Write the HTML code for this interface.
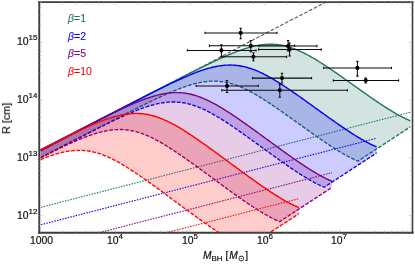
<!DOCTYPE html>
<html><head><meta charset="utf-8"><style>
html,body{margin:0;padding:0;background:#fff;}
body{width:415px;height:265px;position:relative;overflow:hidden;font-family:"Liberation Sans",sans-serif;color:#111;}
.t{position:absolute;white-space:nowrap;line-height:1;font-size:10.4px;will-change:transform;-webkit-text-stroke:0.2px #111;}
.t sup{font-size:8px;vertical-align:baseline;position:relative;top:-5.3px;margin-left:0px;}
.t sub{font-size:8px;vertical-align:baseline;position:relative;top:2px;}
.lg{position:absolute;white-space:nowrap;line-height:1;font-size:10.5px;left:67.8px;will-change:transform;-webkit-text-stroke:0.08px currentColor;}
</style></head><body>
<svg width="415" height="265" viewBox="0 0 415 265" style="position:absolute;left:0;top:0">
<defs><clipPath id="c"><rect x="39.3" y="2.1" width="373.1" height="230.5"/></clipPath></defs>
<g clip-path="url(#c)" fill="none" stroke-linecap="butt" stroke-linejoin="round">
<path d="M41.00 150.87 L45.98 148.23 L50.97 145.61 L55.95 142.98 L60.93 140.36 L65.92 137.74 L70.90 135.12 L75.88 132.51 L80.86 129.90 L85.85 127.29 L90.83 124.69 L95.81 122.08 L100.80 119.48 L105.78 116.88 L110.76 114.28 L115.75 111.68 L120.73 109.09 L125.71 106.49 L130.69 103.90 L135.68 101.31 L140.66 98.72 L145.64 96.13 L150.63 93.54 L155.61 90.96 L160.59 88.37 L165.58 85.79 L170.56 83.20 L175.54 80.62 L180.53 78.04 L185.51 75.44 L190.49 72.82 L195.47 70.20 L200.46 67.58 L205.44 64.96 L210.42 62.33 L215.41 59.72 L220.39 57.10 L225.37 54.48 L230.36 51.86 L235.34 49.24 L240.32 46.62 L245.31 44.01 L250.29 41.39 L255.27 38.77 L260.25 36.16 L265.24 33.54 L270.22 30.93 L275.20 28.32 L280.19 25.74 L285.17 23.17 L290.15 20.60 L295.14 18.03 L300.12 15.46 L305.10 12.89 L310.08 10.32 L315.07 7.75 L320.05 5.18 L325.03 2.61 L330.02 0.04 L335.00 -2.53" stroke="#5a5a5a" stroke-width="1.15" stroke-dasharray="3.6 1.8"/>
<path d="M40.60 150.90 L41.84 150.24 L43.07 149.59 L44.31 148.94 L45.55 148.29 L46.78 147.63 L48.02 146.98 L49.26 146.33 L50.49 145.68 L51.73 145.03 L52.96 144.37 L54.20 143.72 L55.44 143.07 L56.67 142.42 L57.91 141.77 L59.15 141.12 L60.38 140.47 L61.62 139.82 L62.86 139.17 L64.09 138.52 L65.33 137.87 L66.57 137.22 L67.80 136.57 L69.04 135.92 L70.27 135.27 L71.51 134.62 L72.75 133.98 L73.98 133.33 L75.22 132.68 L76.46 132.03 L77.69 131.38 L78.93 130.73 L80.17 130.09 L81.40 129.44 L82.64 128.79 L83.88 128.14 L85.11 127.50 L86.35 126.85 L87.59 126.20 L88.82 125.56 L90.06 124.91 L91.29 124.26 L92.53 123.62 L93.77 122.97 L95.00 122.33 L96.24 121.68 L97.48 121.03 L98.71 120.39 L99.95 119.74 L101.19 119.10 L102.42 118.45 L103.66 117.81 L104.90 117.16 L106.13 116.52 L107.37 115.87 L108.61 115.23 L109.84 114.58 L111.08 113.94 L112.31 113.29 L113.55 112.65 L114.79 112.01 L116.02 111.36 L117.26 110.72 L118.50 110.08 L119.73 109.43 L120.97 108.79 L122.21 108.15 L123.44 107.50 L124.68 106.86 L125.92 106.22 L127.15 105.57 L128.39 104.93 L129.62 104.29 L130.86 103.65 L132.10 103.00 L133.33 102.36 L134.57 101.72 L135.81 101.08 L137.04 100.44 L138.28 99.79 L139.52 99.15 L140.75 98.51 L141.99 97.87 L143.23 97.23 L144.46 96.59 L145.70 95.95 L146.94 95.31 L148.17 94.67 L149.41 94.03 L150.64 93.39 L151.88 92.75 L153.12 92.11 L154.35 91.47 L155.59 90.83 L156.83 90.19 L158.06 89.55 L159.30 88.92 L160.54 88.28 L161.77 87.64 L163.01 87.00 L164.25 86.37 L165.48 85.73 L166.72 85.09 L167.95 84.46 L169.19 83.82 L170.43 83.19 L171.66 82.55 L172.90 81.92 L174.14 81.29 L175.37 80.65 L176.61 80.02 L177.85 79.39 L179.08 78.76 L180.32 78.13 L181.56 77.50 L182.79 76.87 L184.03 76.24 L185.27 75.61 L186.50 74.99 L187.74 74.36 L188.97 73.74 L190.21 73.11 L191.45 72.49 L192.68 71.87 L193.92 71.25 L195.16 70.63 L196.39 70.01 L197.63 69.40 L198.87 68.78 L200.10 68.17 L201.34 67.56 L202.58 66.95 L203.81 66.34 L205.05 65.74 L206.28 65.14 L207.52 64.54 L208.76 63.94 L209.99 63.35 L211.23 62.75 L212.47 62.17 L213.70 61.58 L214.94 61.00 L216.18 60.42 L217.41 59.85 L218.65 59.28 L219.89 58.71 L221.12 58.15 L222.36 57.59 L223.60 57.04 L224.83 56.50 L226.07 55.96 L227.30 55.42 L228.54 54.90 L229.78 54.38 L231.01 53.86 L232.25 53.36 L233.49 52.86 L234.72 52.37 L235.96 51.89 L237.20 51.42 L238.43 50.96 L239.67 50.51 L240.91 50.07 L242.14 49.64 L243.38 49.22 L244.62 48.82 L245.85 48.43 L247.09 48.05 L248.32 47.68 L249.56 47.33 L250.80 47.00 L252.03 46.68 L253.27 46.38 L254.51 46.10 L255.74 45.83 L256.98 45.58 L258.22 45.36 L259.45 45.15 L260.69 44.96 L261.93 44.79 L263.16 44.64 L264.40 44.52 L265.63 44.42 L266.87 44.34 L268.11 44.28 L269.34 44.25 L270.58 44.24 L271.82 44.25 L273.05 44.29 L274.29 44.36 L275.53 44.45 L276.76 44.56 L278.00 44.70 L279.24 44.87 L280.47 45.06 L281.71 45.27 L282.95 45.51 L284.18 45.78 L285.42 46.07 L286.65 46.38 L287.89 46.72 L289.13 47.08 L290.36 47.46 L291.60 47.87 L292.84 48.30 L294.07 48.75 L295.31 49.23 L296.55 49.72 L297.78 50.23 L299.02 50.77 L300.26 51.32 L301.49 51.89 L302.73 52.48 L303.96 53.08 L305.20 53.71 L306.44 54.35 L307.67 55.00 L308.91 55.67 L310.15 56.35 L311.38 57.04 L312.62 57.75 L313.86 58.47 L315.09 59.20 L316.33 59.95 L317.57 60.70 L318.80 61.47 L320.04 62.24 L321.28 63.02 L322.51 63.81 L323.75 64.61 L324.98 65.41 L326.22 66.23 L327.46 67.05 L328.69 67.87 L329.93 68.70 L331.17 69.54 L332.40 70.38 L333.64 71.23 L334.88 72.08 L336.11 72.94 L337.35 73.79 L338.59 74.66 L339.82 75.52 L341.06 76.39 L342.29 77.26 L343.53 78.13 L344.77 79.00 L346.00 79.88 L347.24 80.76 L348.48 81.64 L349.71 82.52 L350.95 83.40 L352.19 84.28 L353.42 85.16 L354.66 86.04 L355.90 86.92 L357.13 87.80 L358.37 88.68 L359.61 89.55 L360.84 90.43 L362.08 91.31 L363.31 92.18 L364.55 93.05 L365.79 93.92 L367.02 94.79 L368.26 95.65 L369.50 96.51 L370.73 97.37 L371.97 98.23 L373.21 99.08 L374.44 99.92 L375.68 100.77 L376.92 101.60 L378.15 102.44 L379.39 103.27 L380.63 104.09 L381.86 104.90 L383.10 105.71 L384.33 106.52 L385.57 107.31 L386.81 108.10 L388.04 108.88 L389.28 109.65 L390.52 110.41 L391.75 111.16 L392.99 111.90 L394.23 112.63 L395.46 113.35 L396.70 114.06 L397.94 114.75 L399.17 115.43 L400.41 116.09 L401.64 116.74 L402.88 117.38 L404.12 117.99 L405.35 118.59 L406.59 119.17 L407.83 119.72 L409.06 120.26 L410.30 120.77 L410.30 126.87 L358.00 161.15 L356.77 160.64 L355.55 160.11 L354.32 159.56 L353.10 158.98 L351.87 158.39 L350.65 157.78 L349.42 157.15 L348.20 156.51 L346.97 155.85 L345.75 155.18 L344.52 154.49 L343.29 153.79 L342.07 153.08 L340.84 152.36 L339.62 151.62 L338.39 150.88 L337.17 150.12 L335.94 149.36 L334.72 148.59 L333.49 147.81 L332.26 147.02 L331.04 146.22 L329.81 145.42 L328.59 144.61 L327.36 143.79 L326.14 142.97 L324.91 142.15 L323.69 141.32 L322.46 140.48 L321.24 139.64 L320.01 138.79 L318.78 137.94 L317.56 137.09 L316.33 136.23 L315.11 135.38 L313.88 134.51 L312.66 133.65 L311.43 132.78 L310.21 131.91 L308.98 131.04 L307.76 130.17 L306.53 129.29 L305.30 128.42 L304.08 127.54 L302.85 126.66 L301.63 125.78 L300.40 124.90 L299.18 124.02 L297.95 123.14 L296.73 122.26 L295.50 121.38 L294.27 120.50 L293.05 119.63 L291.82 118.75 L290.60 117.87 L289.37 117.00 L288.15 116.12 L286.92 115.25 L285.70 114.38 L284.47 113.52 L283.25 112.65 L282.02 111.79 L280.79 110.93 L279.57 110.08 L278.34 109.22 L277.12 108.38 L275.89 107.53 L274.67 106.70 L273.44 105.86 L272.22 105.03 L270.99 104.21 L269.77 103.40 L268.54 102.59 L267.31 101.78 L266.09 100.99 L264.86 100.20 L263.64 99.42 L262.41 98.65 L261.19 97.89 L259.96 97.14 L258.74 96.39 L257.51 95.66 L256.28 94.94 L255.06 94.24 L253.83 93.54 L252.61 92.86 L251.38 92.19 L250.16 91.53 L248.93 90.89 L247.71 90.27 L246.48 89.66 L245.26 89.07 L244.03 88.49 L242.80 87.94 L241.58 87.40 L240.35 86.88 L239.13 86.38 L237.90 85.90 L236.68 85.44 L235.45 85.00 L234.23 84.59 L233.00 84.20 L231.78 83.82 L230.55 83.48 L229.32 83.15 L228.10 82.85 L226.87 82.57 L225.65 82.32 L224.42 82.09 L223.20 81.89 L221.97 81.71 L220.75 81.56 L219.52 81.43 L218.29 81.32 L217.07 81.24 L215.84 81.19 L214.62 81.15 L213.39 81.15 L212.17 81.16 L210.94 81.20 L209.72 81.27 L208.49 81.35 L207.27 81.46 L206.04 81.59 L204.81 81.74 L203.59 81.91 L202.36 82.10 L201.14 82.32 L199.91 82.55 L198.69 82.80 L197.46 83.06 L196.24 83.35 L195.01 83.65 L193.79 83.97 L192.56 84.30 L191.33 84.65 L190.11 85.01 L188.88 85.39 L187.66 85.78 L186.43 86.18 L185.21 86.60 L183.98 87.02 L182.76 87.46 L181.53 87.91 L180.31 88.36 L179.08 88.83 L177.85 89.31 L176.63 89.79 L175.40 90.29 L174.18 90.79 L172.95 91.30 L171.73 91.81 L170.50 92.33 L169.28 92.86 L168.05 93.40 L166.82 93.94 L165.60 94.48 L164.37 95.03 L163.15 95.59 L161.92 96.15 L160.70 96.71 L159.47 97.28 L158.25 97.86 L157.02 98.43 L155.80 99.01 L154.57 99.59 L153.34 100.18 L152.12 100.77 L150.89 101.36 L149.67 101.95 L148.44 102.55 L147.22 103.15 L145.99 103.75 L144.77 104.35 L143.54 104.95 L142.32 105.56 L141.09 106.17 L139.86 106.78 L138.64 107.39 L137.41 108.00 L136.19 108.61 L134.96 109.23 L133.74 109.84 L132.51 110.46 L131.29 111.08 L130.06 111.70 L128.83 112.32 L127.61 112.94 L126.38 113.56 L125.16 114.18 L123.93 114.81 L122.71 115.43 L121.48 116.06 L120.26 116.68 L119.03 117.31 L117.81 117.93 L116.58 118.56 L115.35 119.19 L114.13 119.82 L112.90 120.45 L111.68 121.07 L110.45 121.70 L109.23 122.33 L108.00 122.96 L106.78 123.59 L105.55 124.22 L104.33 124.86 L103.10 125.49 L101.87 126.12 L100.65 126.75 L99.42 127.38 L98.20 128.01 L96.97 128.65 L95.75 129.28 L94.52 129.91 L93.30 130.55 L92.07 131.18 L90.84 131.81 L89.62 132.45 L88.39 133.08 L87.17 133.71 L85.94 134.35 L84.72 134.98 L83.49 135.62 L82.27 136.25 L81.04 136.89 L79.82 137.52 L78.59 138.16 L77.36 138.79 L76.14 139.43 L74.91 140.06 L73.69 140.70 L72.46 141.33 L71.24 141.97 L70.01 142.60 L68.79 143.24 L67.56 143.88 L66.34 144.51 L65.11 145.15 L63.88 145.78 L62.66 146.42 L61.43 147.06 L60.21 147.69 L58.98 148.33 L57.76 148.97 L56.53 149.61 L55.31 150.24 L54.08 150.88 L52.85 151.52 L51.63 152.15 L50.40 152.79 L49.18 153.43 L47.95 154.07 L46.73 154.71 L45.50 155.34 L44.28 155.98 L43.05 156.62 L41.83 157.26 L40.60 157.90 Z" fill="#1f7362" fill-opacity="0.2" stroke="none"/>
<path d="M41 207.30 L410.30 112.21" stroke="#1f7362" stroke-width="1.1" stroke-dasharray="1.5 1.25"/>
<path d="M40.60 157.90 L41.83 157.26 L43.05 156.62 L44.28 155.98 L45.50 155.34 L46.73 154.71 L47.95 154.07 L49.18 153.43 L50.40 152.79 L51.63 152.15 L52.85 151.52 L54.08 150.88 L55.31 150.24 L56.53 149.61 L57.76 148.97 L58.98 148.33 L60.21 147.69 L61.43 147.06 L62.66 146.42 L63.88 145.78 L65.11 145.15 L66.34 144.51 L67.56 143.88 L68.79 143.24 L70.01 142.60 L71.24 141.97 L72.46 141.33 L73.69 140.70 L74.91 140.06 L76.14 139.43 L77.36 138.79 L78.59 138.16 L79.82 137.52 L81.04 136.89 L82.27 136.25 L83.49 135.62 L84.72 134.98 L85.94 134.35 L87.17 133.71 L88.39 133.08 L89.62 132.45 L90.84 131.81 L92.07 131.18 L93.30 130.55 L94.52 129.91 L95.75 129.28 L96.97 128.65 L98.20 128.01 L99.42 127.38 L100.65 126.75 L101.87 126.12 L103.10 125.49 L104.33 124.86 L105.55 124.22 L106.78 123.59 L108.00 122.96 L109.23 122.33 L110.45 121.70 L111.68 121.07 L112.90 120.45 L114.13 119.82 L115.35 119.19 L116.58 118.56 L117.81 117.93 L119.03 117.31 L120.26 116.68 L121.48 116.06 L122.71 115.43 L123.93 114.81 L125.16 114.18 L126.38 113.56 L127.61 112.94 L128.83 112.32 L130.06 111.70 L131.29 111.08 L132.51 110.46 L133.74 109.84 L134.96 109.23 L136.19 108.61 L137.41 108.00 L138.64 107.39 L139.86 106.78 L141.09 106.17 L142.32 105.56 L143.54 104.95 L144.77 104.35 L145.99 103.75 L147.22 103.15 L148.44 102.55 L149.67 101.95 L150.89 101.36 L152.12 100.77 L153.34 100.18 L154.57 99.59 L155.80 99.01 L157.02 98.43 L158.25 97.86 L159.47 97.28 L160.70 96.71 L161.92 96.15 L163.15 95.59 L164.37 95.03 L165.60 94.48 L166.82 93.94 L168.05 93.40 L169.28 92.86 L170.50 92.33 L171.73 91.81 L172.95 91.30 L174.18 90.79 L175.40 90.29 L176.63 89.79 L177.85 89.31 L179.08 88.83 L180.31 88.36 L181.53 87.91 L182.76 87.46 L183.98 87.02 L185.21 86.60 L186.43 86.18 L187.66 85.78 L188.88 85.39 L190.11 85.01 L191.33 84.65 L192.56 84.30 L193.79 83.97 L195.01 83.65 L196.24 83.35 L197.46 83.06 L198.69 82.80 L199.91 82.55 L201.14 82.32 L202.36 82.10 L203.59 81.91 L204.81 81.74 L206.04 81.59 L207.27 81.46 L208.49 81.35 L209.72 81.27 L210.94 81.20 L212.17 81.16 L213.39 81.15 L214.62 81.15 L215.84 81.19 L217.07 81.24 L218.29 81.32 L219.52 81.43 L220.75 81.56 L221.97 81.71 L223.20 81.89 L224.42 82.09 L225.65 82.32 L226.87 82.57 L228.10 82.85 L229.32 83.15 L230.55 83.48 L231.78 83.82 L233.00 84.20 L234.23 84.59 L235.45 85.00 L236.68 85.44 L237.90 85.90 L239.13 86.38 L240.35 86.88 L241.58 87.40 L242.80 87.94 L244.03 88.49 L245.26 89.07 L246.48 89.66 L247.71 90.27 L248.93 90.89 L250.16 91.53 L251.38 92.19 L252.61 92.86 L253.83 93.54 L255.06 94.24 L256.28 94.94 L257.51 95.66 L258.74 96.39 L259.96 97.14 L261.19 97.89 L262.41 98.65 L263.64 99.42 L264.86 100.20 L266.09 100.99 L267.31 101.78 L268.54 102.59 L269.77 103.40 L270.99 104.21 L272.22 105.03 L273.44 105.86 L274.67 106.70 L275.89 107.53 L277.12 108.38 L278.34 109.22 L279.57 110.08 L280.79 110.93 L282.02 111.79 L283.25 112.65 L284.47 113.52 L285.70 114.38 L286.92 115.25 L288.15 116.12 L289.37 117.00 L290.60 117.87 L291.82 118.75 L293.05 119.63 L294.27 120.50 L295.50 121.38 L296.73 122.26 L297.95 123.14 L299.18 124.02 L300.40 124.90 L301.63 125.78 L302.85 126.66 L304.08 127.54 L305.30 128.42 L306.53 129.29 L307.76 130.17 L308.98 131.04 L310.21 131.91 L311.43 132.78 L312.66 133.65 L313.88 134.51 L315.11 135.38 L316.33 136.23 L317.56 137.09 L318.78 137.94 L320.01 138.79 L321.24 139.64 L322.46 140.48 L323.69 141.32 L324.91 142.15 L326.14 142.97 L327.36 143.79 L328.59 144.61 L329.81 145.42 L331.04 146.22 L332.26 147.02 L333.49 147.81 L334.72 148.59 L335.94 149.36 L337.17 150.12 L338.39 150.88 L339.62 151.62 L340.84 152.36 L342.07 153.08 L343.29 153.79 L344.52 154.49 L345.75 155.18 L346.97 155.85 L348.20 156.51 L349.42 157.15 L350.65 157.78 L351.87 158.39 L353.10 158.98 L354.32 159.56 L355.55 160.11 L356.77 160.64 L358.00 161.15 L410.30 126.87" stroke="#1f7362" stroke-width="1.35" stroke-dasharray="3.8 1.5"/>
<path d="M40.60 150.90 L41.84 150.24 L43.07 149.59 L44.31 148.94 L45.55 148.29 L46.78 147.63 L48.02 146.98 L49.26 146.33 L50.49 145.68 L51.73 145.03 L52.96 144.37 L54.20 143.72 L55.44 143.07 L56.67 142.42 L57.91 141.77 L59.15 141.12 L60.38 140.47 L61.62 139.82 L62.86 139.17 L64.09 138.52 L65.33 137.87 L66.57 137.22 L67.80 136.57 L69.04 135.92 L70.27 135.27 L71.51 134.62 L72.75 133.98 L73.98 133.33 L75.22 132.68 L76.46 132.03 L77.69 131.38 L78.93 130.73 L80.17 130.09 L81.40 129.44 L82.64 128.79 L83.88 128.14 L85.11 127.50 L86.35 126.85 L87.59 126.20 L88.82 125.56 L90.06 124.91 L91.29 124.26 L92.53 123.62 L93.77 122.97 L95.00 122.33 L96.24 121.68 L97.48 121.03 L98.71 120.39 L99.95 119.74 L101.19 119.10 L102.42 118.45 L103.66 117.81 L104.90 117.16 L106.13 116.52 L107.37 115.87 L108.61 115.23 L109.84 114.58 L111.08 113.94 L112.31 113.29 L113.55 112.65 L114.79 112.01 L116.02 111.36 L117.26 110.72 L118.50 110.08 L119.73 109.43 L120.97 108.79 L122.21 108.15 L123.44 107.50 L124.68 106.86 L125.92 106.22 L127.15 105.57 L128.39 104.93 L129.62 104.29 L130.86 103.65 L132.10 103.00 L133.33 102.36 L134.57 101.72 L135.81 101.08 L137.04 100.44 L138.28 99.79 L139.52 99.15 L140.75 98.51 L141.99 97.87 L143.23 97.23 L144.46 96.59 L145.70 95.95 L146.94 95.31 L148.17 94.67 L149.41 94.03 L150.64 93.39 L151.88 92.75 L153.12 92.11 L154.35 91.47 L155.59 90.83 L156.83 90.19 L158.06 89.55 L159.30 88.92 L160.54 88.28 L161.77 87.64 L163.01 87.00 L164.25 86.37 L165.48 85.73 L166.72 85.09 L167.95 84.46 L169.19 83.82 L170.43 83.19 L171.66 82.55 L172.90 81.92 L174.14 81.29 L175.37 80.65 L176.61 80.02 L177.85 79.39 L179.08 78.76 L180.32 78.13 L181.56 77.50 L182.79 76.87 L184.03 76.24 L185.27 75.61 L186.50 74.99 L187.74 74.36 L188.97 73.74 L190.21 73.11 L191.45 72.49 L192.68 71.87 L193.92 71.25 L195.16 70.63 L196.39 70.01 L197.63 69.40 L198.87 68.78 L200.10 68.17 L201.34 67.56 L202.58 66.95 L203.81 66.34 L205.05 65.74 L206.28 65.14 L207.52 64.54 L208.76 63.94 L209.99 63.35 L211.23 62.75 L212.47 62.17 L213.70 61.58 L214.94 61.00 L216.18 60.42 L217.41 59.85 L218.65 59.28 L219.89 58.71 L221.12 58.15 L222.36 57.59 L223.60 57.04 L224.83 56.50 L226.07 55.96 L227.30 55.42 L228.54 54.90 L229.78 54.38 L231.01 53.86 L232.25 53.36 L233.49 52.86 L234.72 52.37 L235.96 51.89 L237.20 51.42 L238.43 50.96 L239.67 50.51 L240.91 50.07 L242.14 49.64 L243.38 49.22 L244.62 48.82 L245.85 48.43 L247.09 48.05 L248.32 47.68 L249.56 47.33 L250.80 47.00 L252.03 46.68 L253.27 46.38 L254.51 46.10 L255.74 45.83 L256.98 45.58 L258.22 45.36 L259.45 45.15 L260.69 44.96 L261.93 44.79 L263.16 44.64 L264.40 44.52 L265.63 44.42 L266.87 44.34 L268.11 44.28 L269.34 44.25 L270.58 44.24 L271.82 44.25 L273.05 44.29 L274.29 44.36 L275.53 44.45 L276.76 44.56 L278.00 44.70 L279.24 44.87 L280.47 45.06 L281.71 45.27 L282.95 45.51 L284.18 45.78 L285.42 46.07 L286.65 46.38 L287.89 46.72 L289.13 47.08 L290.36 47.46 L291.60 47.87 L292.84 48.30 L294.07 48.75 L295.31 49.23 L296.55 49.72 L297.78 50.23 L299.02 50.77 L300.26 51.32 L301.49 51.89 L302.73 52.48 L303.96 53.08 L305.20 53.71 L306.44 54.35 L307.67 55.00 L308.91 55.67 L310.15 56.35 L311.38 57.04 L312.62 57.75 L313.86 58.47 L315.09 59.20 L316.33 59.95 L317.57 60.70 L318.80 61.47 L320.04 62.24 L321.28 63.02 L322.51 63.81 L323.75 64.61 L324.98 65.41 L326.22 66.23 L327.46 67.05 L328.69 67.87 L329.93 68.70 L331.17 69.54 L332.40 70.38 L333.64 71.23 L334.88 72.08 L336.11 72.94 L337.35 73.79 L338.59 74.66 L339.82 75.52 L341.06 76.39 L342.29 77.26 L343.53 78.13 L344.77 79.00 L346.00 79.88 L347.24 80.76 L348.48 81.64 L349.71 82.52 L350.95 83.40 L352.19 84.28 L353.42 85.16 L354.66 86.04 L355.90 86.92 L357.13 87.80 L358.37 88.68 L359.61 89.55 L360.84 90.43 L362.08 91.31 L363.31 92.18 L364.55 93.05 L365.79 93.92 L367.02 94.79 L368.26 95.65 L369.50 96.51 L370.73 97.37 L371.97 98.23 L373.21 99.08 L374.44 99.92 L375.68 100.77 L376.92 101.60 L378.15 102.44 L379.39 103.27 L380.63 104.09 L381.86 104.90 L383.10 105.71 L384.33 106.52 L385.57 107.31 L386.81 108.10 L388.04 108.88 L389.28 109.65 L390.52 110.41 L391.75 111.16 L392.99 111.90 L394.23 112.63 L395.46 113.35 L396.70 114.06 L397.94 114.75 L399.17 115.43 L400.41 116.09 L401.64 116.74 L402.88 117.38 L404.12 117.99 L405.35 118.59 L406.59 119.17 L407.83 119.72 L409.06 120.26 L410.30 120.77" stroke="#1f7362" stroke-width="1.4"/>
<path d="M40.60 150.25 L41.72 149.66 L42.85 149.08 L43.97 148.49 L45.09 147.90 L46.22 147.32 L47.34 146.73 L48.47 146.15 L49.59 145.56 L50.71 144.98 L51.84 144.39 L52.96 143.81 L54.08 143.22 L55.21 142.64 L56.33 142.05 L57.46 141.47 L58.58 140.88 L59.70 140.30 L60.83 139.71 L61.95 139.13 L63.07 138.54 L64.20 137.96 L65.32 137.38 L66.45 136.79 L67.57 136.21 L68.69 135.62 L69.82 135.04 L70.94 134.46 L72.06 133.87 L73.19 133.29 L74.31 132.70 L75.44 132.12 L76.56 131.54 L77.68 130.95 L78.81 130.37 L79.93 129.79 L81.05 129.20 L82.18 128.62 L83.30 128.04 L84.43 127.46 L85.55 126.87 L86.67 126.29 L87.80 125.71 L88.92 125.13 L90.04 124.54 L91.17 123.96 L92.29 123.38 L93.42 122.80 L94.54 122.21 L95.66 121.63 L96.79 121.05 L97.91 120.47 L99.03 119.89 L100.16 119.31 L101.28 118.72 L102.41 118.14 L103.53 117.56 L104.65 116.98 L105.78 116.40 L106.90 115.82 L108.02 115.24 L109.15 114.66 L110.27 114.08 L111.40 113.50 L112.52 112.92 L113.64 112.34 L114.77 111.76 L115.89 111.18 L117.01 110.60 L118.14 110.02 L119.26 109.44 L120.39 108.86 L121.51 108.29 L122.63 107.71 L123.76 107.13 L124.88 106.55 L126.00 105.98 L127.13 105.40 L128.25 104.82 L129.38 104.25 L130.50 103.67 L131.62 103.09 L132.75 102.52 L133.87 101.94 L134.99 101.37 L136.12 100.80 L137.24 100.22 L138.37 99.65 L139.49 99.08 L140.61 98.51 L141.74 97.93 L142.86 97.36 L143.98 96.79 L145.11 96.22 L146.23 95.66 L147.36 95.09 L148.48 94.52 L149.60 93.96 L150.73 93.39 L151.85 92.83 L152.97 92.26 L154.10 91.70 L155.22 91.14 L156.35 90.58 L157.47 90.02 L158.59 89.47 L159.72 88.91 L160.84 88.36 L161.96 87.80 L163.09 87.25 L164.21 86.70 L165.34 86.15 L166.46 85.61 L167.58 85.07 L168.71 84.52 L169.83 83.99 L170.95 83.45 L172.08 82.92 L173.20 82.38 L174.33 81.86 L175.45 81.33 L176.57 80.81 L177.70 80.29 L178.82 79.77 L179.94 79.26 L181.07 78.76 L182.19 78.25 L183.32 77.75 L184.44 77.26 L185.56 76.77 L186.69 76.28 L187.81 75.80 L188.93 75.33 L190.06 74.86 L191.18 74.40 L192.31 73.94 L193.43 73.49 L194.55 73.05 L195.68 72.62 L196.80 72.19 L197.92 71.77 L199.05 71.36 L200.17 70.96 L201.30 70.57 L202.42 70.19 L203.54 69.82 L204.67 69.45 L205.79 69.10 L206.91 68.76 L208.04 68.44 L209.16 68.12 L210.29 67.82 L211.41 67.53 L212.53 67.25 L213.66 66.99 L214.78 66.75 L215.90 66.51 L217.03 66.30 L218.15 66.10 L219.28 65.91 L220.40 65.74 L221.52 65.59 L222.65 65.46 L223.77 65.35 L224.89 65.25 L226.02 65.17 L227.14 65.12 L228.27 65.08 L229.39 65.06 L230.51 65.06 L231.64 65.08 L232.76 65.12 L233.88 65.18 L235.01 65.26 L236.13 65.37 L237.26 65.49 L238.38 65.63 L239.50 65.80 L240.63 65.99 L241.75 66.19 L242.87 66.42 L244.00 66.67 L245.12 66.94 L246.25 67.22 L247.37 67.53 L248.49 67.86 L249.62 68.21 L250.74 68.57 L251.86 68.96 L252.99 69.36 L254.11 69.78 L255.24 70.22 L256.36 70.67 L257.48 71.14 L258.61 71.63 L259.73 72.14 L260.85 72.65 L261.98 73.19 L263.10 73.74 L264.23 74.30 L265.35 74.87 L266.47 75.46 L267.60 76.06 L268.72 76.67 L269.84 77.30 L270.97 77.93 L272.09 78.58 L273.22 79.23 L274.34 79.90 L275.46 80.57 L276.59 81.26 L277.71 81.95 L278.83 82.65 L279.96 83.36 L281.08 84.07 L282.21 84.80 L283.33 85.53 L284.45 86.26 L285.58 87.00 L286.70 87.75 L287.82 88.50 L288.95 89.26 L290.07 90.02 L291.20 90.79 L292.32 91.56 L293.44 92.33 L294.57 93.11 L295.69 93.89 L296.81 94.68 L297.94 95.47 L299.06 96.26 L300.19 97.05 L301.31 97.85 L302.43 98.64 L303.56 99.44 L304.68 100.25 L305.80 101.05 L306.93 101.85 L308.05 102.66 L309.18 103.47 L310.30 104.27 L311.42 105.08 L312.55 105.89 L313.67 106.70 L314.79 107.51 L315.92 108.32 L317.04 109.13 L318.17 109.94 L319.29 110.75 L320.41 111.56 L321.54 112.37 L322.66 113.17 L323.78 113.98 L324.91 114.79 L326.03 115.59 L327.16 116.39 L328.28 117.20 L329.40 118.00 L330.53 118.79 L331.65 119.59 L332.77 120.38 L333.90 121.17 L335.02 121.96 L336.15 122.75 L337.27 123.53 L338.39 124.31 L339.52 125.09 L340.64 125.86 L341.76 126.63 L342.89 127.40 L344.01 128.16 L345.14 128.92 L346.26 129.67 L347.38 130.41 L348.51 131.16 L349.63 131.89 L350.75 132.62 L351.88 133.35 L353.00 134.07 L354.13 134.78 L355.25 135.48 L356.37 136.18 L357.50 136.86 L358.62 137.54 L359.74 138.21 L360.87 138.88 L361.99 139.53 L363.12 140.17 L364.24 140.80 L365.36 141.42 L366.49 142.02 L367.61 142.62 L368.73 143.20 L369.86 143.77 L370.98 144.32 L372.11 144.85 L373.23 145.37 L374.35 145.88 L375.48 146.36 L376.60 146.82 L376.60 152.92 L324.30 187.20 L323.20 186.75 L322.11 186.28 L321.01 185.79 L319.92 185.28 L318.82 184.76 L317.73 184.23 L316.63 183.68 L315.54 183.11 L314.44 182.53 L313.35 181.95 L312.25 181.34 L311.16 180.73 L310.06 180.11 L308.96 179.48 L307.87 178.84 L306.77 178.18 L305.68 177.52 L304.58 176.86 L303.49 176.18 L302.39 175.50 L301.30 174.81 L300.20 174.11 L299.11 173.41 L298.01 172.70 L296.92 171.98 L295.82 171.26 L294.73 170.54 L293.63 169.80 L292.53 169.07 L291.44 168.33 L290.34 167.58 L289.25 166.84 L288.15 166.08 L287.06 165.33 L285.96 164.57 L284.87 163.81 L283.77 163.04 L282.68 162.27 L281.58 161.50 L280.49 160.73 L279.39 159.95 L278.29 159.17 L277.20 158.39 L276.10 157.61 L275.01 156.83 L273.91 156.04 L272.82 155.25 L271.72 154.47 L270.63 153.68 L269.53 152.89 L268.44 152.09 L267.34 151.30 L266.25 150.51 L265.15 149.71 L264.05 148.92 L262.96 148.12 L261.86 147.33 L260.77 146.53 L259.67 145.74 L258.58 144.95 L257.48 144.15 L256.39 143.36 L255.29 142.56 L254.20 141.77 L253.10 140.98 L252.01 140.19 L250.91 139.40 L249.82 138.61 L248.72 137.82 L247.62 137.03 L246.53 136.25 L245.43 135.47 L244.34 134.69 L243.24 133.91 L242.15 133.13 L241.05 132.36 L239.96 131.59 L238.86 130.82 L237.77 130.06 L236.67 129.30 L235.58 128.54 L234.48 127.79 L233.38 127.04 L232.29 126.29 L231.19 125.55 L230.10 124.82 L229.00 124.08 L227.91 123.36 L226.81 122.64 L225.72 121.93 L224.62 121.22 L223.53 120.52 L222.43 119.82 L221.34 119.14 L220.24 118.46 L219.14 117.79 L218.05 117.13 L216.95 116.47 L215.86 115.83 L214.76 115.19 L213.67 114.57 L212.57 113.95 L211.48 113.35 L210.38 112.75 L209.29 112.17 L208.19 111.60 L207.10 111.05 L206.00 110.50 L204.91 109.97 L203.81 109.45 L202.71 108.95 L201.62 108.46 L200.52 107.99 L199.43 107.53 L198.33 107.09 L197.24 106.66 L196.14 106.25 L195.05 105.86 L193.95 105.49 L192.86 105.13 L191.76 104.79 L190.67 104.47 L189.57 104.17 L188.47 103.89 L187.38 103.62 L186.28 103.38 L185.19 103.15 L184.09 102.95 L183.00 102.76 L181.90 102.59 L180.81 102.45 L179.71 102.32 L178.62 102.21 L177.52 102.12 L176.43 102.06 L175.33 102.01 L174.23 101.98 L173.14 101.97 L172.04 101.98 L170.95 102.01 L169.85 102.05 L168.76 102.12 L167.66 102.20 L166.57 102.30 L165.47 102.42 L164.38 102.55 L163.28 102.71 L162.19 102.87 L161.09 103.06 L159.99 103.26 L158.90 103.47 L157.80 103.70 L156.71 103.94 L155.61 104.20 L154.52 104.47 L153.42 104.75 L152.33 105.05 L151.23 105.36 L150.14 105.67 L149.04 106.01 L147.95 106.35 L146.85 106.70 L145.76 107.06 L144.66 107.43 L143.56 107.81 L142.47 108.20 L141.37 108.60 L140.28 109.00 L139.18 109.42 L138.09 109.84 L136.99 110.27 L135.90 110.70 L134.80 111.15 L133.71 111.59 L132.61 112.05 L131.52 112.51 L130.42 112.97 L129.32 113.44 L128.23 113.92 L127.13 114.40 L126.04 114.88 L124.94 115.37 L123.85 115.86 L122.75 116.36 L121.66 116.86 L120.56 117.36 L119.47 117.87 L118.37 118.38 L117.28 118.89 L116.18 119.40 L115.08 119.92 L113.99 120.44 L112.89 120.96 L111.80 121.49 L110.70 122.02 L109.61 122.55 L108.51 123.08 L107.42 123.61 L106.32 124.15 L105.23 124.68 L104.13 125.22 L103.04 125.76 L101.94 126.30 L100.85 126.85 L99.75 127.39 L98.65 127.93 L97.56 128.48 L96.46 129.03 L95.37 129.58 L94.27 130.12 L93.18 130.67 L92.08 131.23 L90.99 131.78 L89.89 132.33 L88.80 132.88 L87.70 133.44 L86.61 133.99 L85.51 134.55 L84.41 135.10 L83.32 135.66 L82.22 136.22 L81.13 136.78 L80.03 137.33 L78.94 137.89 L77.84 138.45 L76.75 139.01 L75.65 139.57 L74.56 140.13 L73.46 140.69 L72.37 141.25 L71.27 141.81 L70.17 142.38 L69.08 142.94 L67.98 143.50 L66.89 144.06 L65.79 144.62 L64.70 145.19 L63.60 145.75 L62.51 146.31 L61.41 146.88 L60.32 147.44 L59.22 148.01 L58.13 148.57 L57.03 149.13 L55.94 149.70 L54.84 150.26 L53.74 150.83 L52.65 151.39 L51.55 151.96 L50.46 152.52 L49.36 153.09 L48.27 153.65 L47.17 154.22 L46.08 154.79 L44.98 155.35 L43.89 155.92 L42.79 156.48 L41.70 157.05 L40.60 157.62 Z" fill="#0000ff" fill-opacity="0.2" stroke="none"/>
<path d="M41 224.67 L376.60 138.25" stroke="#0000ff" stroke-width="1.1" stroke-dasharray="1.5 1.25"/>
<path d="M40.60 157.62 L41.70 157.05 L42.79 156.48 L43.89 155.92 L44.98 155.35 L46.08 154.79 L47.17 154.22 L48.27 153.65 L49.36 153.09 L50.46 152.52 L51.55 151.96 L52.65 151.39 L53.74 150.83 L54.84 150.26 L55.94 149.70 L57.03 149.13 L58.13 148.57 L59.22 148.01 L60.32 147.44 L61.41 146.88 L62.51 146.31 L63.60 145.75 L64.70 145.19 L65.79 144.62 L66.89 144.06 L67.98 143.50 L69.08 142.94 L70.17 142.38 L71.27 141.81 L72.37 141.25 L73.46 140.69 L74.56 140.13 L75.65 139.57 L76.75 139.01 L77.84 138.45 L78.94 137.89 L80.03 137.33 L81.13 136.78 L82.22 136.22 L83.32 135.66 L84.41 135.10 L85.51 134.55 L86.61 133.99 L87.70 133.44 L88.80 132.88 L89.89 132.33 L90.99 131.78 L92.08 131.23 L93.18 130.67 L94.27 130.12 L95.37 129.58 L96.46 129.03 L97.56 128.48 L98.65 127.93 L99.75 127.39 L100.85 126.85 L101.94 126.30 L103.04 125.76 L104.13 125.22 L105.23 124.68 L106.32 124.15 L107.42 123.61 L108.51 123.08 L109.61 122.55 L110.70 122.02 L111.80 121.49 L112.89 120.96 L113.99 120.44 L115.08 119.92 L116.18 119.40 L117.28 118.89 L118.37 118.38 L119.47 117.87 L120.56 117.36 L121.66 116.86 L122.75 116.36 L123.85 115.86 L124.94 115.37 L126.04 114.88 L127.13 114.40 L128.23 113.92 L129.32 113.44 L130.42 112.97 L131.52 112.51 L132.61 112.05 L133.71 111.59 L134.80 111.15 L135.90 110.70 L136.99 110.27 L138.09 109.84 L139.18 109.42 L140.28 109.00 L141.37 108.60 L142.47 108.20 L143.56 107.81 L144.66 107.43 L145.76 107.06 L146.85 106.70 L147.95 106.35 L149.04 106.01 L150.14 105.67 L151.23 105.36 L152.33 105.05 L153.42 104.75 L154.52 104.47 L155.61 104.20 L156.71 103.94 L157.80 103.70 L158.90 103.47 L159.99 103.26 L161.09 103.06 L162.19 102.87 L163.28 102.71 L164.38 102.55 L165.47 102.42 L166.57 102.30 L167.66 102.20 L168.76 102.12 L169.85 102.05 L170.95 102.01 L172.04 101.98 L173.14 101.97 L174.23 101.98 L175.33 102.01 L176.43 102.06 L177.52 102.12 L178.62 102.21 L179.71 102.32 L180.81 102.45 L181.90 102.59 L183.00 102.76 L184.09 102.95 L185.19 103.15 L186.28 103.38 L187.38 103.62 L188.47 103.89 L189.57 104.17 L190.67 104.47 L191.76 104.79 L192.86 105.13 L193.95 105.49 L195.05 105.86 L196.14 106.25 L197.24 106.66 L198.33 107.09 L199.43 107.53 L200.52 107.99 L201.62 108.46 L202.71 108.95 L203.81 109.45 L204.91 109.97 L206.00 110.50 L207.10 111.05 L208.19 111.60 L209.29 112.17 L210.38 112.75 L211.48 113.35 L212.57 113.95 L213.67 114.57 L214.76 115.19 L215.86 115.83 L216.95 116.47 L218.05 117.13 L219.14 117.79 L220.24 118.46 L221.34 119.14 L222.43 119.82 L223.53 120.52 L224.62 121.22 L225.72 121.93 L226.81 122.64 L227.91 123.36 L229.00 124.08 L230.10 124.82 L231.19 125.55 L232.29 126.29 L233.38 127.04 L234.48 127.79 L235.58 128.54 L236.67 129.30 L237.77 130.06 L238.86 130.82 L239.96 131.59 L241.05 132.36 L242.15 133.13 L243.24 133.91 L244.34 134.69 L245.43 135.47 L246.53 136.25 L247.62 137.03 L248.72 137.82 L249.82 138.61 L250.91 139.40 L252.01 140.19 L253.10 140.98 L254.20 141.77 L255.29 142.56 L256.39 143.36 L257.48 144.15 L258.58 144.95 L259.67 145.74 L260.77 146.53 L261.86 147.33 L262.96 148.12 L264.05 148.92 L265.15 149.71 L266.25 150.51 L267.34 151.30 L268.44 152.09 L269.53 152.89 L270.63 153.68 L271.72 154.47 L272.82 155.25 L273.91 156.04 L275.01 156.83 L276.10 157.61 L277.20 158.39 L278.29 159.17 L279.39 159.95 L280.49 160.73 L281.58 161.50 L282.68 162.27 L283.77 163.04 L284.87 163.81 L285.96 164.57 L287.06 165.33 L288.15 166.08 L289.25 166.84 L290.34 167.58 L291.44 168.33 L292.53 169.07 L293.63 169.80 L294.73 170.54 L295.82 171.26 L296.92 171.98 L298.01 172.70 L299.11 173.41 L300.20 174.11 L301.30 174.81 L302.39 175.50 L303.49 176.18 L304.58 176.86 L305.68 177.52 L306.77 178.18 L307.87 178.84 L308.96 179.48 L310.06 180.11 L311.16 180.73 L312.25 181.34 L313.35 181.95 L314.44 182.53 L315.54 183.11 L316.63 183.68 L317.73 184.23 L318.82 184.76 L319.92 185.28 L321.01 185.79 L322.11 186.28 L323.20 186.75 L324.30 187.20 L376.60 152.92" stroke="#0000ff" stroke-width="1.35" stroke-dasharray="3.8 1.5"/>
<path d="M40.60 150.25 L41.72 149.66 L42.85 149.08 L43.97 148.49 L45.09 147.90 L46.22 147.32 L47.34 146.73 L48.47 146.15 L49.59 145.56 L50.71 144.98 L51.84 144.39 L52.96 143.81 L54.08 143.22 L55.21 142.64 L56.33 142.05 L57.46 141.47 L58.58 140.88 L59.70 140.30 L60.83 139.71 L61.95 139.13 L63.07 138.54 L64.20 137.96 L65.32 137.38 L66.45 136.79 L67.57 136.21 L68.69 135.62 L69.82 135.04 L70.94 134.46 L72.06 133.87 L73.19 133.29 L74.31 132.70 L75.44 132.12 L76.56 131.54 L77.68 130.95 L78.81 130.37 L79.93 129.79 L81.05 129.20 L82.18 128.62 L83.30 128.04 L84.43 127.46 L85.55 126.87 L86.67 126.29 L87.80 125.71 L88.92 125.13 L90.04 124.54 L91.17 123.96 L92.29 123.38 L93.42 122.80 L94.54 122.21 L95.66 121.63 L96.79 121.05 L97.91 120.47 L99.03 119.89 L100.16 119.31 L101.28 118.72 L102.41 118.14 L103.53 117.56 L104.65 116.98 L105.78 116.40 L106.90 115.82 L108.02 115.24 L109.15 114.66 L110.27 114.08 L111.40 113.50 L112.52 112.92 L113.64 112.34 L114.77 111.76 L115.89 111.18 L117.01 110.60 L118.14 110.02 L119.26 109.44 L120.39 108.86 L121.51 108.29 L122.63 107.71 L123.76 107.13 L124.88 106.55 L126.00 105.98 L127.13 105.40 L128.25 104.82 L129.38 104.25 L130.50 103.67 L131.62 103.09 L132.75 102.52 L133.87 101.94 L134.99 101.37 L136.12 100.80 L137.24 100.22 L138.37 99.65 L139.49 99.08 L140.61 98.51 L141.74 97.93 L142.86 97.36 L143.98 96.79 L145.11 96.22 L146.23 95.66 L147.36 95.09 L148.48 94.52 L149.60 93.96 L150.73 93.39 L151.85 92.83 L152.97 92.26 L154.10 91.70 L155.22 91.14 L156.35 90.58 L157.47 90.02 L158.59 89.47 L159.72 88.91 L160.84 88.36 L161.96 87.80 L163.09 87.25 L164.21 86.70 L165.34 86.15 L166.46 85.61 L167.58 85.07 L168.71 84.52 L169.83 83.99 L170.95 83.45 L172.08 82.92 L173.20 82.38 L174.33 81.86 L175.45 81.33 L176.57 80.81 L177.70 80.29 L178.82 79.77 L179.94 79.26 L181.07 78.76 L182.19 78.25 L183.32 77.75 L184.44 77.26 L185.56 76.77 L186.69 76.28 L187.81 75.80 L188.93 75.33 L190.06 74.86 L191.18 74.40 L192.31 73.94 L193.43 73.49 L194.55 73.05 L195.68 72.62 L196.80 72.19 L197.92 71.77 L199.05 71.36 L200.17 70.96 L201.30 70.57 L202.42 70.19 L203.54 69.82 L204.67 69.45 L205.79 69.10 L206.91 68.76 L208.04 68.44 L209.16 68.12 L210.29 67.82 L211.41 67.53 L212.53 67.25 L213.66 66.99 L214.78 66.75 L215.90 66.51 L217.03 66.30 L218.15 66.10 L219.28 65.91 L220.40 65.74 L221.52 65.59 L222.65 65.46 L223.77 65.35 L224.89 65.25 L226.02 65.17 L227.14 65.12 L228.27 65.08 L229.39 65.06 L230.51 65.06 L231.64 65.08 L232.76 65.12 L233.88 65.18 L235.01 65.26 L236.13 65.37 L237.26 65.49 L238.38 65.63 L239.50 65.80 L240.63 65.99 L241.75 66.19 L242.87 66.42 L244.00 66.67 L245.12 66.94 L246.25 67.22 L247.37 67.53 L248.49 67.86 L249.62 68.21 L250.74 68.57 L251.86 68.96 L252.99 69.36 L254.11 69.78 L255.24 70.22 L256.36 70.67 L257.48 71.14 L258.61 71.63 L259.73 72.14 L260.85 72.65 L261.98 73.19 L263.10 73.74 L264.23 74.30 L265.35 74.87 L266.47 75.46 L267.60 76.06 L268.72 76.67 L269.84 77.30 L270.97 77.93 L272.09 78.58 L273.22 79.23 L274.34 79.90 L275.46 80.57 L276.59 81.26 L277.71 81.95 L278.83 82.65 L279.96 83.36 L281.08 84.07 L282.21 84.80 L283.33 85.53 L284.45 86.26 L285.58 87.00 L286.70 87.75 L287.82 88.50 L288.95 89.26 L290.07 90.02 L291.20 90.79 L292.32 91.56 L293.44 92.33 L294.57 93.11 L295.69 93.89 L296.81 94.68 L297.94 95.47 L299.06 96.26 L300.19 97.05 L301.31 97.85 L302.43 98.64 L303.56 99.44 L304.68 100.25 L305.80 101.05 L306.93 101.85 L308.05 102.66 L309.18 103.47 L310.30 104.27 L311.42 105.08 L312.55 105.89 L313.67 106.70 L314.79 107.51 L315.92 108.32 L317.04 109.13 L318.17 109.94 L319.29 110.75 L320.41 111.56 L321.54 112.37 L322.66 113.17 L323.78 113.98 L324.91 114.79 L326.03 115.59 L327.16 116.39 L328.28 117.20 L329.40 118.00 L330.53 118.79 L331.65 119.59 L332.77 120.38 L333.90 121.17 L335.02 121.96 L336.15 122.75 L337.27 123.53 L338.39 124.31 L339.52 125.09 L340.64 125.86 L341.76 126.63 L342.89 127.40 L344.01 128.16 L345.14 128.92 L346.26 129.67 L347.38 130.41 L348.51 131.16 L349.63 131.89 L350.75 132.62 L351.88 133.35 L353.00 134.07 L354.13 134.78 L355.25 135.48 L356.37 136.18 L357.50 136.86 L358.62 137.54 L359.74 138.21 L360.87 138.88 L361.99 139.53 L363.12 140.17 L364.24 140.80 L365.36 141.42 L366.49 142.02 L367.61 142.62 L368.73 143.20 L369.86 143.77 L370.98 144.32 L372.11 144.85 L373.23 145.37 L374.35 145.88 L375.48 146.36 L376.60 146.82" stroke="#0000ff" stroke-width="1.4"/>
<path d="M40.60 149.88 L41.57 149.38 L42.55 148.87 L43.52 148.37 L44.50 147.87 L45.47 147.36 L46.45 146.86 L47.42 146.36 L48.40 145.85 L49.37 145.35 L50.35 144.85 L51.32 144.34 L52.29 143.84 L53.27 143.34 L54.24 142.84 L55.22 142.33 L56.19 141.83 L57.17 141.33 L58.14 140.83 L59.12 140.33 L60.09 139.82 L61.07 139.32 L62.04 138.82 L63.02 138.32 L63.99 137.82 L64.96 137.32 L65.94 136.82 L66.91 136.31 L67.89 135.81 L68.86 135.31 L69.84 134.81 L70.81 134.31 L71.79 133.81 L72.76 133.31 L73.74 132.81 L74.71 132.31 L75.68 131.82 L76.66 131.32 L77.63 130.82 L78.61 130.32 L79.58 129.82 L80.56 129.32 L81.53 128.83 L82.51 128.33 L83.48 127.83 L84.46 127.34 L85.43 126.84 L86.41 126.35 L87.38 125.85 L88.35 125.36 L89.33 124.86 L90.30 124.37 L91.28 123.88 L92.25 123.38 L93.23 122.89 L94.20 122.40 L95.18 121.91 L96.15 121.42 L97.13 120.93 L98.10 120.44 L99.07 119.95 L100.05 119.46 L101.02 118.98 L102.00 118.49 L102.97 118.01 L103.95 117.52 L104.92 117.04 L105.90 116.56 L106.87 116.08 L107.85 115.60 L108.82 115.12 L109.80 114.65 L110.77 114.17 L111.74 113.70 L112.72 113.22 L113.69 112.75 L114.67 112.28 L115.64 111.81 L116.62 111.35 L117.59 110.88 L118.57 110.42 L119.54 109.96 L120.52 109.50 L121.49 109.05 L122.46 108.59 L123.44 108.14 L124.41 107.69 L125.39 107.25 L126.36 106.80 L127.34 106.36 L128.31 105.93 L129.29 105.49 L130.26 105.06 L131.24 104.63 L132.21 104.21 L133.19 103.79 L134.16 103.38 L135.13 102.96 L136.11 102.56 L137.08 102.15 L138.06 101.76 L139.03 101.36 L140.01 100.97 L140.98 100.59 L141.96 100.21 L142.93 99.84 L143.91 99.48 L144.88 99.12 L145.85 98.77 L146.83 98.42 L147.80 98.08 L148.78 97.75 L149.75 97.43 L150.73 97.11 L151.70 96.80 L152.68 96.50 L153.65 96.21 L154.63 95.93 L155.60 95.66 L156.58 95.39 L157.55 95.14 L158.52 94.90 L159.50 94.66 L160.47 94.44 L161.45 94.23 L162.42 94.03 L163.40 93.84 L164.37 93.67 L165.35 93.50 L166.32 93.35 L167.30 93.21 L168.27 93.09 L169.24 92.98 L170.22 92.88 L171.19 92.79 L172.17 92.72 L173.14 92.67 L174.12 92.62 L175.09 92.60 L176.07 92.58 L177.04 92.59 L178.02 92.60 L178.99 92.64 L179.97 92.69 L180.94 92.75 L181.91 92.83 L182.89 92.92 L183.86 93.04 L184.84 93.16 L185.81 93.30 L186.79 93.46 L187.76 93.64 L188.74 93.82 L189.71 94.03 L190.69 94.25 L191.66 94.48 L192.63 94.73 L193.61 95.00 L194.58 95.28 L195.56 95.57 L196.53 95.88 L197.51 96.21 L198.48 96.54 L199.46 96.89 L200.43 97.26 L201.41 97.64 L202.38 98.03 L203.36 98.43 L204.33 98.84 L205.30 99.27 L206.28 99.71 L207.25 100.16 L208.23 100.62 L209.20 101.10 L210.18 101.58 L211.15 102.07 L212.13 102.58 L213.10 103.09 L214.08 103.61 L215.05 104.14 L216.02 104.68 L217.00 105.23 L217.97 105.79 L218.95 106.36 L219.92 106.93 L220.90 107.51 L221.87 108.10 L222.85 108.69 L223.82 109.29 L224.80 109.90 L225.77 110.51 L226.75 111.13 L227.72 111.75 L228.69 112.38 L229.67 113.01 L230.64 113.65 L231.62 114.30 L232.59 114.95 L233.57 115.60 L234.54 116.25 L235.52 116.91 L236.49 117.58 L237.47 118.25 L238.44 118.92 L239.41 119.59 L240.39 120.27 L241.36 120.95 L242.34 121.63 L243.31 122.31 L244.29 123.00 L245.26 123.69 L246.24 124.38 L247.21 125.08 L248.19 125.77 L249.16 126.47 L250.14 127.17 L251.11 127.87 L252.08 128.57 L253.06 129.28 L254.03 129.98 L255.01 130.69 L255.98 131.39 L256.96 132.10 L257.93 132.81 L258.91 133.52 L259.88 134.23 L260.86 134.94 L261.83 135.65 L262.80 136.36 L263.78 137.07 L264.75 137.78 L265.73 138.49 L266.70 139.21 L267.68 139.92 L268.65 140.63 L269.63 141.34 L270.60 142.05 L271.58 142.76 L272.55 143.47 L273.53 144.18 L274.50 144.89 L275.47 145.60 L276.45 146.31 L277.42 147.02 L278.40 147.72 L279.37 148.43 L280.35 149.13 L281.32 149.83 L282.30 150.53 L283.27 151.24 L284.25 151.93 L285.22 152.63 L286.19 153.33 L287.17 154.02 L288.14 154.71 L289.12 155.40 L290.09 156.09 L291.07 156.78 L292.04 157.46 L293.02 158.14 L293.99 158.82 L294.97 159.50 L295.94 160.17 L296.92 160.84 L297.89 161.51 L298.86 162.17 L299.84 162.83 L300.81 163.49 L301.79 164.14 L302.76 164.79 L303.74 165.44 L304.71 166.08 L305.69 166.72 L306.66 167.35 L307.64 167.98 L308.61 168.60 L309.58 169.22 L310.56 169.83 L311.53 170.43 L312.51 171.03 L313.48 171.63 L314.46 172.21 L315.43 172.79 L316.41 173.37 L317.38 173.93 L318.36 174.49 L319.33 175.04 L320.31 175.58 L321.28 176.11 L322.25 176.64 L323.23 177.15 L324.20 177.65 L325.18 178.15 L326.15 178.63 L327.13 179.10 L328.10 179.55 L329.08 180.00 L330.05 180.43 L331.03 180.85 L332.00 181.25 L332.00 187.35 L279.70 221.63 L278.78 221.25 L277.85 220.86 L276.93 220.45 L276.01 220.03 L275.08 219.60 L274.16 219.16 L273.24 218.70 L272.31 218.24 L271.39 217.77 L270.47 217.29 L269.55 216.80 L268.62 216.30 L267.70 215.79 L266.78 215.27 L265.85 214.75 L264.93 214.22 L264.01 213.68 L263.08 213.14 L262.16 212.59 L261.24 212.03 L260.31 211.47 L259.39 210.90 L258.47 210.33 L257.54 209.75 L256.62 209.17 L255.70 208.58 L254.77 207.99 L253.85 207.39 L252.93 206.79 L252.01 206.18 L251.08 205.57 L250.16 204.96 L249.24 204.34 L248.31 203.72 L247.39 203.10 L246.47 202.47 L245.54 201.84 L244.62 201.21 L243.70 200.57 L242.77 199.93 L241.85 199.29 L240.93 198.65 L240.00 198.00 L239.08 197.35 L238.16 196.70 L237.23 196.05 L236.31 195.40 L235.39 194.74 L234.46 194.08 L233.54 193.42 L232.62 192.76 L231.70 192.10 L230.77 191.44 L229.85 190.77 L228.93 190.11 L228.00 189.44 L227.08 188.77 L226.16 188.10 L225.23 187.43 L224.31 186.76 L223.39 186.09 L222.46 185.41 L221.54 184.74 L220.62 184.06 L219.69 183.39 L218.77 182.71 L217.85 182.04 L216.92 181.36 L216.00 180.68 L215.08 180.00 L214.16 179.33 L213.23 178.65 L212.31 177.97 L211.39 177.29 L210.46 176.61 L209.54 175.94 L208.62 175.26 L207.69 174.58 L206.77 173.90 L205.85 173.23 L204.92 172.55 L204.00 171.87 L203.08 171.20 L202.15 170.52 L201.23 169.85 L200.31 169.18 L199.38 168.50 L198.46 167.83 L197.54 167.16 L196.62 166.49 L195.69 165.82 L194.77 165.15 L193.85 164.49 L192.92 163.82 L192.00 163.16 L191.08 162.50 L190.15 161.84 L189.23 161.18 L188.31 160.52 L187.38 159.87 L186.46 159.22 L185.54 158.57 L184.61 157.92 L183.69 157.27 L182.77 156.63 L181.84 155.99 L180.92 155.35 L180.00 154.72 L179.07 154.09 L178.15 153.46 L177.23 152.83 L176.31 152.21 L175.38 151.60 L174.46 150.98 L173.54 150.37 L172.61 149.77 L171.69 149.17 L170.77 148.57 L169.84 147.98 L168.92 147.40 L168.00 146.82 L167.07 146.24 L166.15 145.67 L165.23 145.11 L164.30 144.55 L163.38 144.00 L162.46 143.45 L161.53 142.92 L160.61 142.38 L159.69 141.86 L158.77 141.34 L157.84 140.84 L156.92 140.33 L156.00 139.84 L155.07 139.36 L154.15 138.88 L153.23 138.42 L152.30 137.96 L151.38 137.51 L150.46 137.08 L149.53 136.65 L148.61 136.23 L147.69 135.83 L146.76 135.43 L145.84 135.05 L144.92 134.67 L143.99 134.31 L143.07 133.96 L142.15 133.62 L141.23 133.30 L140.30 132.98 L139.38 132.68 L138.46 132.40 L137.53 132.12 L136.61 131.86 L135.69 131.61 L134.76 131.37 L133.84 131.15 L132.92 130.95 L131.99 130.75 L131.07 130.57 L130.15 130.41 L129.22 130.25 L128.30 130.12 L127.38 129.99 L126.45 129.88 L125.53 129.79 L124.61 129.70 L123.68 129.64 L122.76 129.58 L121.84 129.54 L120.92 129.52 L119.99 129.50 L119.07 129.50 L118.15 129.52 L117.22 129.55 L116.30 129.59 L115.38 129.64 L114.45 129.71 L113.53 129.79 L112.61 129.88 L111.68 129.98 L110.76 130.10 L109.84 130.23 L108.91 130.37 L107.99 130.52 L107.07 130.68 L106.14 130.85 L105.22 131.03 L104.30 131.23 L103.38 131.43 L102.45 131.64 L101.53 131.87 L100.61 132.10 L99.68 132.34 L98.76 132.59 L97.84 132.85 L96.91 133.12 L95.99 133.39 L95.07 133.67 L94.14 133.96 L93.22 134.26 L92.30 134.57 L91.37 134.88 L90.45 135.20 L89.53 135.52 L88.60 135.85 L87.68 136.19 L86.76 136.53 L85.84 136.88 L84.91 137.23 L83.99 137.59 L83.07 137.95 L82.14 138.32 L81.22 138.70 L80.30 139.07 L79.37 139.45 L78.45 139.84 L77.53 140.23 L76.60 140.62 L75.68 141.02 L74.76 141.42 L73.83 141.82 L72.91 142.23 L71.99 142.64 L71.06 143.05 L70.14 143.47 L69.22 143.88 L68.29 144.30 L67.37 144.73 L66.45 145.15 L65.53 145.58 L64.60 146.01 L63.68 146.44 L62.76 146.88 L61.83 147.31 L60.91 147.75 L59.99 148.19 L59.06 148.63 L58.14 149.07 L57.22 149.52 L56.29 149.96 L55.37 150.41 L54.45 150.86 L53.52 151.31 L52.60 151.76 L51.68 152.21 L50.75 152.66 L49.83 153.12 L48.91 153.57 L47.99 154.03 L47.06 154.49 L46.14 154.94 L45.22 155.40 L44.29 155.86 L43.37 156.32 L42.45 156.79 L41.52 157.25 L40.60 157.71 Z" fill="#800080" fill-opacity="0.2" stroke="none"/>
<path d="M41 247.63 L332.00 172.70" stroke="#800080" stroke-width="1.1" stroke-dasharray="1.5 1.25"/>
<path d="M40.60 157.71 L41.52 157.25 L42.45 156.79 L43.37 156.32 L44.29 155.86 L45.22 155.40 L46.14 154.94 L47.06 154.49 L47.99 154.03 L48.91 153.57 L49.83 153.12 L50.75 152.66 L51.68 152.21 L52.60 151.76 L53.52 151.31 L54.45 150.86 L55.37 150.41 L56.29 149.96 L57.22 149.52 L58.14 149.07 L59.06 148.63 L59.99 148.19 L60.91 147.75 L61.83 147.31 L62.76 146.88 L63.68 146.44 L64.60 146.01 L65.53 145.58 L66.45 145.15 L67.37 144.73 L68.29 144.30 L69.22 143.88 L70.14 143.47 L71.06 143.05 L71.99 142.64 L72.91 142.23 L73.83 141.82 L74.76 141.42 L75.68 141.02 L76.60 140.62 L77.53 140.23 L78.45 139.84 L79.37 139.45 L80.30 139.07 L81.22 138.70 L82.14 138.32 L83.07 137.95 L83.99 137.59 L84.91 137.23 L85.84 136.88 L86.76 136.53 L87.68 136.19 L88.60 135.85 L89.53 135.52 L90.45 135.20 L91.37 134.88 L92.30 134.57 L93.22 134.26 L94.14 133.96 L95.07 133.67 L95.99 133.39 L96.91 133.12 L97.84 132.85 L98.76 132.59 L99.68 132.34 L100.61 132.10 L101.53 131.87 L102.45 131.64 L103.38 131.43 L104.30 131.23 L105.22 131.03 L106.14 130.85 L107.07 130.68 L107.99 130.52 L108.91 130.37 L109.84 130.23 L110.76 130.10 L111.68 129.98 L112.61 129.88 L113.53 129.79 L114.45 129.71 L115.38 129.64 L116.30 129.59 L117.22 129.55 L118.15 129.52 L119.07 129.50 L119.99 129.50 L120.92 129.52 L121.84 129.54 L122.76 129.58 L123.68 129.64 L124.61 129.70 L125.53 129.79 L126.45 129.88 L127.38 129.99 L128.30 130.12 L129.22 130.25 L130.15 130.41 L131.07 130.57 L131.99 130.75 L132.92 130.95 L133.84 131.15 L134.76 131.37 L135.69 131.61 L136.61 131.86 L137.53 132.12 L138.46 132.40 L139.38 132.68 L140.30 132.98 L141.23 133.30 L142.15 133.62 L143.07 133.96 L143.99 134.31 L144.92 134.67 L145.84 135.05 L146.76 135.43 L147.69 135.83 L148.61 136.23 L149.53 136.65 L150.46 137.08 L151.38 137.51 L152.30 137.96 L153.23 138.42 L154.15 138.88 L155.07 139.36 L156.00 139.84 L156.92 140.33 L157.84 140.84 L158.77 141.34 L159.69 141.86 L160.61 142.38 L161.53 142.92 L162.46 143.45 L163.38 144.00 L164.30 144.55 L165.23 145.11 L166.15 145.67 L167.07 146.24 L168.00 146.82 L168.92 147.40 L169.84 147.98 L170.77 148.57 L171.69 149.17 L172.61 149.77 L173.54 150.37 L174.46 150.98 L175.38 151.60 L176.31 152.21 L177.23 152.83 L178.15 153.46 L179.07 154.09 L180.00 154.72 L180.92 155.35 L181.84 155.99 L182.77 156.63 L183.69 157.27 L184.61 157.92 L185.54 158.57 L186.46 159.22 L187.38 159.87 L188.31 160.52 L189.23 161.18 L190.15 161.84 L191.08 162.50 L192.00 163.16 L192.92 163.82 L193.85 164.49 L194.77 165.15 L195.69 165.82 L196.62 166.49 L197.54 167.16 L198.46 167.83 L199.38 168.50 L200.31 169.18 L201.23 169.85 L202.15 170.52 L203.08 171.20 L204.00 171.87 L204.92 172.55 L205.85 173.23 L206.77 173.90 L207.69 174.58 L208.62 175.26 L209.54 175.94 L210.46 176.61 L211.39 177.29 L212.31 177.97 L213.23 178.65 L214.16 179.33 L215.08 180.00 L216.00 180.68 L216.92 181.36 L217.85 182.04 L218.77 182.71 L219.69 183.39 L220.62 184.06 L221.54 184.74 L222.46 185.41 L223.39 186.09 L224.31 186.76 L225.23 187.43 L226.16 188.10 L227.08 188.77 L228.00 189.44 L228.93 190.11 L229.85 190.77 L230.77 191.44 L231.70 192.10 L232.62 192.76 L233.54 193.42 L234.46 194.08 L235.39 194.74 L236.31 195.40 L237.23 196.05 L238.16 196.70 L239.08 197.35 L240.00 198.00 L240.93 198.65 L241.85 199.29 L242.77 199.93 L243.70 200.57 L244.62 201.21 L245.54 201.84 L246.47 202.47 L247.39 203.10 L248.31 203.72 L249.24 204.34 L250.16 204.96 L251.08 205.57 L252.01 206.18 L252.93 206.79 L253.85 207.39 L254.77 207.99 L255.70 208.58 L256.62 209.17 L257.54 209.75 L258.47 210.33 L259.39 210.90 L260.31 211.47 L261.24 212.03 L262.16 212.59 L263.08 213.14 L264.01 213.68 L264.93 214.22 L265.85 214.75 L266.78 215.27 L267.70 215.79 L268.62 216.30 L269.55 216.80 L270.47 217.29 L271.39 217.77 L272.31 218.24 L273.24 218.70 L274.16 219.16 L275.08 219.60 L276.01 220.03 L276.93 220.45 L277.85 220.86 L278.78 221.25 L279.70 221.63 L332.00 187.35" stroke="#800080" stroke-width="1.35" stroke-dasharray="3.8 1.5"/>
<path d="M40.60 149.88 L41.57 149.38 L42.55 148.87 L43.52 148.37 L44.50 147.87 L45.47 147.36 L46.45 146.86 L47.42 146.36 L48.40 145.85 L49.37 145.35 L50.35 144.85 L51.32 144.34 L52.29 143.84 L53.27 143.34 L54.24 142.84 L55.22 142.33 L56.19 141.83 L57.17 141.33 L58.14 140.83 L59.12 140.33 L60.09 139.82 L61.07 139.32 L62.04 138.82 L63.02 138.32 L63.99 137.82 L64.96 137.32 L65.94 136.82 L66.91 136.31 L67.89 135.81 L68.86 135.31 L69.84 134.81 L70.81 134.31 L71.79 133.81 L72.76 133.31 L73.74 132.81 L74.71 132.31 L75.68 131.82 L76.66 131.32 L77.63 130.82 L78.61 130.32 L79.58 129.82 L80.56 129.32 L81.53 128.83 L82.51 128.33 L83.48 127.83 L84.46 127.34 L85.43 126.84 L86.41 126.35 L87.38 125.85 L88.35 125.36 L89.33 124.86 L90.30 124.37 L91.28 123.88 L92.25 123.38 L93.23 122.89 L94.20 122.40 L95.18 121.91 L96.15 121.42 L97.13 120.93 L98.10 120.44 L99.07 119.95 L100.05 119.46 L101.02 118.98 L102.00 118.49 L102.97 118.01 L103.95 117.52 L104.92 117.04 L105.90 116.56 L106.87 116.08 L107.85 115.60 L108.82 115.12 L109.80 114.65 L110.77 114.17 L111.74 113.70 L112.72 113.22 L113.69 112.75 L114.67 112.28 L115.64 111.81 L116.62 111.35 L117.59 110.88 L118.57 110.42 L119.54 109.96 L120.52 109.50 L121.49 109.05 L122.46 108.59 L123.44 108.14 L124.41 107.69 L125.39 107.25 L126.36 106.80 L127.34 106.36 L128.31 105.93 L129.29 105.49 L130.26 105.06 L131.24 104.63 L132.21 104.21 L133.19 103.79 L134.16 103.38 L135.13 102.96 L136.11 102.56 L137.08 102.15 L138.06 101.76 L139.03 101.36 L140.01 100.97 L140.98 100.59 L141.96 100.21 L142.93 99.84 L143.91 99.48 L144.88 99.12 L145.85 98.77 L146.83 98.42 L147.80 98.08 L148.78 97.75 L149.75 97.43 L150.73 97.11 L151.70 96.80 L152.68 96.50 L153.65 96.21 L154.63 95.93 L155.60 95.66 L156.58 95.39 L157.55 95.14 L158.52 94.90 L159.50 94.66 L160.47 94.44 L161.45 94.23 L162.42 94.03 L163.40 93.84 L164.37 93.67 L165.35 93.50 L166.32 93.35 L167.30 93.21 L168.27 93.09 L169.24 92.98 L170.22 92.88 L171.19 92.79 L172.17 92.72 L173.14 92.67 L174.12 92.62 L175.09 92.60 L176.07 92.58 L177.04 92.59 L178.02 92.60 L178.99 92.64 L179.97 92.69 L180.94 92.75 L181.91 92.83 L182.89 92.92 L183.86 93.04 L184.84 93.16 L185.81 93.30 L186.79 93.46 L187.76 93.64 L188.74 93.82 L189.71 94.03 L190.69 94.25 L191.66 94.48 L192.63 94.73 L193.61 95.00 L194.58 95.28 L195.56 95.57 L196.53 95.88 L197.51 96.21 L198.48 96.54 L199.46 96.89 L200.43 97.26 L201.41 97.64 L202.38 98.03 L203.36 98.43 L204.33 98.84 L205.30 99.27 L206.28 99.71 L207.25 100.16 L208.23 100.62 L209.20 101.10 L210.18 101.58 L211.15 102.07 L212.13 102.58 L213.10 103.09 L214.08 103.61 L215.05 104.14 L216.02 104.68 L217.00 105.23 L217.97 105.79 L218.95 106.36 L219.92 106.93 L220.90 107.51 L221.87 108.10 L222.85 108.69 L223.82 109.29 L224.80 109.90 L225.77 110.51 L226.75 111.13 L227.72 111.75 L228.69 112.38 L229.67 113.01 L230.64 113.65 L231.62 114.30 L232.59 114.95 L233.57 115.60 L234.54 116.25 L235.52 116.91 L236.49 117.58 L237.47 118.25 L238.44 118.92 L239.41 119.59 L240.39 120.27 L241.36 120.95 L242.34 121.63 L243.31 122.31 L244.29 123.00 L245.26 123.69 L246.24 124.38 L247.21 125.08 L248.19 125.77 L249.16 126.47 L250.14 127.17 L251.11 127.87 L252.08 128.57 L253.06 129.28 L254.03 129.98 L255.01 130.69 L255.98 131.39 L256.96 132.10 L257.93 132.81 L258.91 133.52 L259.88 134.23 L260.86 134.94 L261.83 135.65 L262.80 136.36 L263.78 137.07 L264.75 137.78 L265.73 138.49 L266.70 139.21 L267.68 139.92 L268.65 140.63 L269.63 141.34 L270.60 142.05 L271.58 142.76 L272.55 143.47 L273.53 144.18 L274.50 144.89 L275.47 145.60 L276.45 146.31 L277.42 147.02 L278.40 147.72 L279.37 148.43 L280.35 149.13 L281.32 149.83 L282.30 150.53 L283.27 151.24 L284.25 151.93 L285.22 152.63 L286.19 153.33 L287.17 154.02 L288.14 154.71 L289.12 155.40 L290.09 156.09 L291.07 156.78 L292.04 157.46 L293.02 158.14 L293.99 158.82 L294.97 159.50 L295.94 160.17 L296.92 160.84 L297.89 161.51 L298.86 162.17 L299.84 162.83 L300.81 163.49 L301.79 164.14 L302.76 164.79 L303.74 165.44 L304.71 166.08 L305.69 166.72 L306.66 167.35 L307.64 167.98 L308.61 168.60 L309.58 169.22 L310.56 169.83 L311.53 170.43 L312.51 171.03 L313.48 171.63 L314.46 172.21 L315.43 172.79 L316.41 173.37 L317.38 173.93 L318.36 174.49 L319.33 175.04 L320.31 175.58 L321.28 176.11 L322.25 176.64 L323.23 177.15 L324.20 177.65 L325.18 178.15 L326.15 178.63 L327.13 179.10 L328.10 179.55 L329.08 180.00 L330.05 180.43 L331.03 180.85 L332.00 181.25" stroke="#800080" stroke-width="1.4"/>
<path d="M40.60 149.86 L41.46 149.42 L42.33 148.98 L43.19 148.54 L44.06 148.10 L44.92 147.66 L45.78 147.22 L46.65 146.79 L47.51 146.35 L48.37 145.91 L49.24 145.47 L50.10 145.04 L50.97 144.60 L51.83 144.16 L52.69 143.73 L53.56 143.29 L54.42 142.86 L55.29 142.42 L56.15 141.99 L57.01 141.56 L57.88 141.12 L58.74 140.69 L59.61 140.26 L60.47 139.83 L61.33 139.40 L62.20 138.97 L63.06 138.54 L63.92 138.11 L64.79 137.68 L65.65 137.26 L66.52 136.83 L67.38 136.41 L68.24 135.98 L69.11 135.56 L69.97 135.14 L70.84 134.72 L71.70 134.30 L72.56 133.88 L73.43 133.46 L74.29 133.05 L75.16 132.63 L76.02 132.22 L76.88 131.81 L77.75 131.40 L78.61 130.99 L79.47 130.58 L80.34 130.18 L81.20 129.78 L82.07 129.37 L82.93 128.97 L83.79 128.58 L84.66 128.18 L85.52 127.79 L86.39 127.40 L87.25 127.01 L88.11 126.62 L88.98 126.24 L89.84 125.86 L90.71 125.48 L91.57 125.10 L92.43 124.73 L93.30 124.36 L94.16 123.99 L95.02 123.63 L95.89 123.27 L96.75 122.91 L97.62 122.56 L98.48 122.21 L99.34 121.87 L100.21 121.53 L101.07 121.19 L101.94 120.86 L102.80 120.54 L103.66 120.21 L104.53 119.90 L105.39 119.58 L106.25 119.28 L107.12 118.98 L107.98 118.68 L108.85 118.39 L109.71 118.11 L110.57 117.83 L111.44 117.56 L112.30 117.30 L113.17 117.04 L114.03 116.79 L114.89 116.54 L115.76 116.31 L116.62 116.08 L117.49 115.86 L118.35 115.65 L119.21 115.44 L120.08 115.25 L120.94 115.06 L121.80 114.89 L122.67 114.72 L123.53 114.56 L124.40 114.41 L125.26 114.27 L126.12 114.14 L126.99 114.02 L127.85 113.91 L128.72 113.81 L129.58 113.72 L130.44 113.64 L131.31 113.58 L132.17 113.52 L133.04 113.48 L133.90 113.44 L134.76 113.42 L135.63 113.41 L136.49 113.42 L137.35 113.43 L138.22 113.46 L139.08 113.49 L139.95 113.54 L140.81 113.61 L141.67 113.68 L142.54 113.77 L143.40 113.87 L144.27 113.98 L145.13 114.11 L145.99 114.24 L146.86 114.39 L147.72 114.55 L148.58 114.72 L149.45 114.91 L150.31 115.11 L151.18 115.32 L152.04 115.54 L152.90 115.77 L153.77 116.02 L154.63 116.27 L155.50 116.54 L156.36 116.82 L157.22 117.11 L158.09 117.41 L158.95 117.72 L159.82 118.04 L160.68 118.38 L161.54 118.72 L162.41 119.07 L163.27 119.43 L164.13 119.81 L165.00 120.19 L165.86 120.58 L166.73 120.98 L167.59 121.39 L168.45 121.81 L169.32 122.23 L170.18 122.67 L171.05 123.11 L171.91 123.56 L172.77 124.01 L173.64 124.48 L174.50 124.95 L175.37 125.43 L176.23 125.92 L177.09 126.41 L177.96 126.91 L178.82 127.41 L179.68 127.92 L180.55 128.44 L181.41 128.96 L182.28 129.49 L183.14 130.02 L184.00 130.55 L184.87 131.10 L185.73 131.64 L186.60 132.19 L187.46 132.75 L188.32 133.31 L189.19 133.87 L190.05 134.44 L190.92 135.01 L191.78 135.59 L192.64 136.16 L193.51 136.75 L194.37 137.33 L195.23 137.92 L196.10 138.51 L196.96 139.10 L197.83 139.70 L198.69 140.30 L199.55 140.90 L200.42 141.50 L201.28 142.11 L202.15 142.71 L203.01 143.32 L203.87 143.93 L204.74 144.55 L205.60 145.16 L206.46 145.78 L207.33 146.40 L208.19 147.02 L209.06 147.64 L209.92 148.26 L210.78 148.89 L211.65 149.51 L212.51 150.14 L213.38 150.76 L214.24 151.39 L215.10 152.02 L215.97 152.65 L216.83 153.28 L217.70 153.91 L218.56 154.55 L219.42 155.18 L220.29 155.81 L221.15 156.45 L222.01 157.08 L222.88 157.72 L223.74 158.35 L224.61 158.99 L225.47 159.62 L226.33 160.26 L227.20 160.89 L228.06 161.53 L228.93 162.17 L229.79 162.80 L230.65 163.44 L231.52 164.07 L232.38 164.71 L233.25 165.35 L234.11 165.98 L234.97 166.62 L235.84 167.25 L236.70 167.89 L237.56 168.52 L238.43 169.15 L239.29 169.79 L240.16 170.42 L241.02 171.05 L241.88 171.68 L242.75 172.31 L243.61 172.94 L244.48 173.57 L245.34 174.20 L246.20 174.82 L247.07 175.45 L247.93 176.08 L248.79 176.70 L249.66 177.32 L250.52 177.94 L251.39 178.56 L252.25 179.18 L253.11 179.80 L253.98 180.41 L254.84 181.03 L255.71 181.64 L256.57 182.25 L257.43 182.86 L258.30 183.47 L259.16 184.07 L260.03 184.68 L260.89 185.28 L261.75 185.88 L262.62 186.47 L263.48 187.07 L264.34 187.66 L265.21 188.25 L266.07 188.84 L266.94 189.42 L267.80 190.00 L268.66 190.58 L269.53 191.15 L270.39 191.72 L271.26 192.29 L272.12 192.86 L272.98 193.42 L273.85 193.97 L274.71 194.53 L275.58 195.08 L276.44 195.62 L277.30 196.16 L278.17 196.70 L279.03 197.23 L279.89 197.75 L280.76 198.27 L281.62 198.79 L282.49 199.30 L283.35 199.80 L284.21 200.30 L285.08 200.79 L285.94 201.27 L286.81 201.75 L287.67 202.22 L288.53 202.69 L289.40 203.14 L290.26 203.59 L291.13 204.03 L291.99 204.46 L292.85 204.88 L293.72 205.29 L294.58 205.70 L295.44 206.09 L296.31 206.47 L297.17 206.84 L298.04 207.20 L298.90 207.55 L298.90 213.65 L246.60 247.93 L245.80 247.61 L245.01 247.28 L244.21 246.94 L243.42 246.59 L242.62 246.24 L241.83 245.87 L241.03 245.49 L240.24 245.11 L239.44 244.72 L238.65 244.32 L237.85 243.91 L237.06 243.50 L236.26 243.08 L235.46 242.65 L234.67 242.22 L233.87 241.78 L233.08 241.34 L232.28 240.89 L231.49 240.43 L230.69 239.97 L229.90 239.51 L229.10 239.03 L228.31 238.56 L227.51 238.08 L226.72 237.59 L225.92 237.11 L225.13 236.61 L224.33 236.12 L223.53 235.62 L222.74 235.11 L221.94 234.60 L221.15 234.09 L220.35 233.58 L219.56 233.06 L218.76 232.54 L217.97 232.01 L217.17 231.49 L216.38 230.96 L215.58 230.43 L214.79 229.89 L213.99 229.35 L213.19 228.81 L212.40 228.27 L211.60 227.73 L210.81 227.18 L210.01 226.63 L209.22 226.08 L208.42 225.53 L207.63 224.98 L206.83 224.42 L206.04 223.86 L205.24 223.30 L204.45 222.74 L203.65 222.18 L202.85 221.61 L202.06 221.05 L201.26 220.48 L200.47 219.91 L199.67 219.34 L198.88 218.77 L198.08 218.20 L197.29 217.63 L196.49 217.05 L195.70 216.48 L194.90 215.90 L194.11 215.32 L193.31 214.75 L192.52 214.17 L191.72 213.59 L190.92 213.01 L190.13 212.43 L189.33 211.84 L188.54 211.26 L187.74 210.68 L186.95 210.09 L186.15 209.51 L185.36 208.92 L184.56 208.34 L183.77 207.75 L182.97 207.17 L182.18 206.58 L181.38 205.99 L180.58 205.41 L179.79 204.82 L178.99 204.23 L178.20 203.64 L177.40 203.06 L176.61 202.47 L175.81 201.88 L175.02 201.29 L174.22 200.70 L173.43 200.11 L172.63 199.52 L171.84 198.94 L171.04 198.35 L170.24 197.76 L169.45 197.17 L168.65 196.58 L167.86 196.00 L167.06 195.41 L166.27 194.82 L165.47 194.24 L164.68 193.65 L163.88 193.06 L163.09 192.48 L162.29 191.89 L161.50 191.31 L160.70 190.73 L159.91 190.14 L159.11 189.56 L158.31 188.98 L157.52 188.40 L156.72 187.82 L155.93 187.24 L155.13 186.66 L154.34 186.08 L153.54 185.51 L152.75 184.93 L151.95 184.36 L151.16 183.79 L150.36 183.21 L149.57 182.64 L148.77 182.07 L147.97 181.51 L147.18 180.94 L146.38 180.38 L145.59 179.81 L144.79 179.25 L144.00 178.69 L143.20 178.14 L142.41 177.58 L141.61 177.03 L140.82 176.48 L140.02 175.93 L139.23 175.38 L138.43 174.84 L137.63 174.30 L136.84 173.76 L136.04 173.22 L135.25 172.69 L134.45 172.16 L133.66 171.63 L132.86 171.10 L132.07 170.58 L131.27 170.06 L130.48 169.55 L129.68 169.04 L128.89 168.53 L128.09 168.03 L127.29 167.53 L126.50 167.03 L125.70 166.54 L124.91 166.05 L124.11 165.57 L123.32 165.09 L122.52 164.62 L121.73 164.15 L120.93 163.69 L120.14 163.23 L119.34 162.78 L118.55 162.33 L117.75 161.89 L116.96 161.46 L116.16 161.03 L115.36 160.61 L114.57 160.19 L113.77 159.78 L112.98 159.38 L112.18 158.98 L111.39 158.59 L110.59 158.21 L109.80 157.83 L109.00 157.47 L108.21 157.11 L107.41 156.75 L106.62 156.41 L105.82 156.07 L105.02 155.75 L104.23 155.43 L103.43 155.12 L102.64 154.82 L101.84 154.52 L101.05 154.24 L100.25 153.96 L99.46 153.70 L98.66 153.44 L97.87 153.20 L97.07 152.96 L96.28 152.73 L95.48 152.52 L94.68 152.31 L93.89 152.11 L93.09 151.93 L92.30 151.75 L91.50 151.58 L90.71 151.43 L89.91 151.28 L89.12 151.15 L88.32 151.02 L87.53 150.91 L86.73 150.80 L85.94 150.71 L85.14 150.63 L84.35 150.55 L83.55 150.49 L82.75 150.44 L81.96 150.40 L81.16 150.37 L80.37 150.35 L79.57 150.34 L78.78 150.33 L77.98 150.34 L77.19 150.36 L76.39 150.39 L75.60 150.43 L74.80 150.48 L74.01 150.54 L73.21 150.60 L72.41 150.68 L71.62 150.76 L70.82 150.86 L70.03 150.96 L69.23 151.07 L68.44 151.20 L67.64 151.32 L66.85 151.46 L66.05 151.61 L65.26 151.76 L64.46 151.92 L63.67 152.09 L62.87 152.27 L62.07 152.45 L61.28 152.64 L60.48 152.84 L59.69 153.04 L58.89 153.25 L58.10 153.47 L57.30 153.69 L56.51 153.92 L55.71 154.16 L54.92 154.40 L54.12 154.65 L53.33 154.90 L52.53 155.16 L51.74 155.42 L50.94 155.69 L50.14 155.96 L49.35 156.24 L48.55 156.53 L47.76 156.81 L46.96 157.10 L46.17 157.40 L45.37 157.70 L44.58 158.00 L43.78 158.31 L42.99 158.62 L42.19 158.94 L41.40 159.26 L40.60 159.58 Z" fill="#ff0000" fill-opacity="0.2" stroke="none"/>
<path d="M41 265.00 L298.90 198.59" stroke="#ff0000" stroke-width="1.1" stroke-dasharray="1.5 1.25"/>
<path d="M40.60 159.58 L41.40 159.26 L42.19 158.94 L42.99 158.62 L43.78 158.31 L44.58 158.00 L45.37 157.70 L46.17 157.40 L46.96 157.10 L47.76 156.81 L48.55 156.53 L49.35 156.24 L50.14 155.96 L50.94 155.69 L51.74 155.42 L52.53 155.16 L53.33 154.90 L54.12 154.65 L54.92 154.40 L55.71 154.16 L56.51 153.92 L57.30 153.69 L58.10 153.47 L58.89 153.25 L59.69 153.04 L60.48 152.84 L61.28 152.64 L62.07 152.45 L62.87 152.27 L63.67 152.09 L64.46 151.92 L65.26 151.76 L66.05 151.61 L66.85 151.46 L67.64 151.32 L68.44 151.20 L69.23 151.07 L70.03 150.96 L70.82 150.86 L71.62 150.76 L72.41 150.68 L73.21 150.60 L74.01 150.54 L74.80 150.48 L75.60 150.43 L76.39 150.39 L77.19 150.36 L77.98 150.34 L78.78 150.33 L79.57 150.34 L80.37 150.35 L81.16 150.37 L81.96 150.40 L82.75 150.44 L83.55 150.49 L84.35 150.55 L85.14 150.63 L85.94 150.71 L86.73 150.80 L87.53 150.91 L88.32 151.02 L89.12 151.15 L89.91 151.28 L90.71 151.43 L91.50 151.58 L92.30 151.75 L93.09 151.93 L93.89 152.11 L94.68 152.31 L95.48 152.52 L96.28 152.73 L97.07 152.96 L97.87 153.20 L98.66 153.44 L99.46 153.70 L100.25 153.96 L101.05 154.24 L101.84 154.52 L102.64 154.82 L103.43 155.12 L104.23 155.43 L105.02 155.75 L105.82 156.07 L106.62 156.41 L107.41 156.75 L108.21 157.11 L109.00 157.47 L109.80 157.83 L110.59 158.21 L111.39 158.59 L112.18 158.98 L112.98 159.38 L113.77 159.78 L114.57 160.19 L115.36 160.61 L116.16 161.03 L116.96 161.46 L117.75 161.89 L118.55 162.33 L119.34 162.78 L120.14 163.23 L120.93 163.69 L121.73 164.15 L122.52 164.62 L123.32 165.09 L124.11 165.57 L124.91 166.05 L125.70 166.54 L126.50 167.03 L127.29 167.53 L128.09 168.03 L128.89 168.53 L129.68 169.04 L130.48 169.55 L131.27 170.06 L132.07 170.58 L132.86 171.10 L133.66 171.63 L134.45 172.16 L135.25 172.69 L136.04 173.22 L136.84 173.76 L137.63 174.30 L138.43 174.84 L139.23 175.38 L140.02 175.93 L140.82 176.48 L141.61 177.03 L142.41 177.58 L143.20 178.14 L144.00 178.69 L144.79 179.25 L145.59 179.81 L146.38 180.38 L147.18 180.94 L147.97 181.51 L148.77 182.07 L149.57 182.64 L150.36 183.21 L151.16 183.79 L151.95 184.36 L152.75 184.93 L153.54 185.51 L154.34 186.08 L155.13 186.66 L155.93 187.24 L156.72 187.82 L157.52 188.40 L158.31 188.98 L159.11 189.56 L159.91 190.14 L160.70 190.73 L161.50 191.31 L162.29 191.89 L163.09 192.48 L163.88 193.06 L164.68 193.65 L165.47 194.24 L166.27 194.82 L167.06 195.41 L167.86 196.00 L168.65 196.58 L169.45 197.17 L170.24 197.76 L171.04 198.35 L171.84 198.94 L172.63 199.52 L173.43 200.11 L174.22 200.70 L175.02 201.29 L175.81 201.88 L176.61 202.47 L177.40 203.06 L178.20 203.64 L178.99 204.23 L179.79 204.82 L180.58 205.41 L181.38 205.99 L182.18 206.58 L182.97 207.17 L183.77 207.75 L184.56 208.34 L185.36 208.92 L186.15 209.51 L186.95 210.09 L187.74 210.68 L188.54 211.26 L189.33 211.84 L190.13 212.43 L190.92 213.01 L191.72 213.59 L192.52 214.17 L193.31 214.75 L194.11 215.32 L194.90 215.90 L195.70 216.48 L196.49 217.05 L197.29 217.63 L198.08 218.20 L198.88 218.77 L199.67 219.34 L200.47 219.91 L201.26 220.48 L202.06 221.05 L202.85 221.61 L203.65 222.18 L204.45 222.74 L205.24 223.30 L206.04 223.86 L206.83 224.42 L207.63 224.98 L208.42 225.53 L209.22 226.08 L210.01 226.63 L210.81 227.18 L211.60 227.73 L212.40 228.27 L213.19 228.81 L213.99 229.35 L214.79 229.89 L215.58 230.43 L216.38 230.96 L217.17 231.49 L217.97 232.01 L218.76 232.54 L219.56 233.06 L220.35 233.58 L221.15 234.09 L221.94 234.60 L222.74 235.11 L223.53 235.62 L224.33 236.12 L225.13 236.61 L225.92 237.11 L226.72 237.59 L227.51 238.08 L228.31 238.56 L229.10 239.03 L229.90 239.51 L230.69 239.97 L231.49 240.43 L232.28 240.89 L233.08 241.34 L233.87 241.78 L234.67 242.22 L235.46 242.65 L236.26 243.08 L237.06 243.50 L237.85 243.91 L238.65 244.32 L239.44 244.72 L240.24 245.11 L241.03 245.49 L241.83 245.87 L242.62 246.24 L243.42 246.59 L244.21 246.94 L245.01 247.28 L245.80 247.61 L246.60 247.93 L298.90 213.65" stroke="#ff0000" stroke-width="1.35" stroke-dasharray="3.8 1.5"/>
<path d="M40.60 149.86 L41.46 149.42 L42.33 148.98 L43.19 148.54 L44.06 148.10 L44.92 147.66 L45.78 147.22 L46.65 146.79 L47.51 146.35 L48.37 145.91 L49.24 145.47 L50.10 145.04 L50.97 144.60 L51.83 144.16 L52.69 143.73 L53.56 143.29 L54.42 142.86 L55.29 142.42 L56.15 141.99 L57.01 141.56 L57.88 141.12 L58.74 140.69 L59.61 140.26 L60.47 139.83 L61.33 139.40 L62.20 138.97 L63.06 138.54 L63.92 138.11 L64.79 137.68 L65.65 137.26 L66.52 136.83 L67.38 136.41 L68.24 135.98 L69.11 135.56 L69.97 135.14 L70.84 134.72 L71.70 134.30 L72.56 133.88 L73.43 133.46 L74.29 133.05 L75.16 132.63 L76.02 132.22 L76.88 131.81 L77.75 131.40 L78.61 130.99 L79.47 130.58 L80.34 130.18 L81.20 129.78 L82.07 129.37 L82.93 128.97 L83.79 128.58 L84.66 128.18 L85.52 127.79 L86.39 127.40 L87.25 127.01 L88.11 126.62 L88.98 126.24 L89.84 125.86 L90.71 125.48 L91.57 125.10 L92.43 124.73 L93.30 124.36 L94.16 123.99 L95.02 123.63 L95.89 123.27 L96.75 122.91 L97.62 122.56 L98.48 122.21 L99.34 121.87 L100.21 121.53 L101.07 121.19 L101.94 120.86 L102.80 120.54 L103.66 120.21 L104.53 119.90 L105.39 119.58 L106.25 119.28 L107.12 118.98 L107.98 118.68 L108.85 118.39 L109.71 118.11 L110.57 117.83 L111.44 117.56 L112.30 117.30 L113.17 117.04 L114.03 116.79 L114.89 116.54 L115.76 116.31 L116.62 116.08 L117.49 115.86 L118.35 115.65 L119.21 115.44 L120.08 115.25 L120.94 115.06 L121.80 114.89 L122.67 114.72 L123.53 114.56 L124.40 114.41 L125.26 114.27 L126.12 114.14 L126.99 114.02 L127.85 113.91 L128.72 113.81 L129.58 113.72 L130.44 113.64 L131.31 113.58 L132.17 113.52 L133.04 113.48 L133.90 113.44 L134.76 113.42 L135.63 113.41 L136.49 113.42 L137.35 113.43 L138.22 113.46 L139.08 113.49 L139.95 113.54 L140.81 113.61 L141.67 113.68 L142.54 113.77 L143.40 113.87 L144.27 113.98 L145.13 114.11 L145.99 114.24 L146.86 114.39 L147.72 114.55 L148.58 114.72 L149.45 114.91 L150.31 115.11 L151.18 115.32 L152.04 115.54 L152.90 115.77 L153.77 116.02 L154.63 116.27 L155.50 116.54 L156.36 116.82 L157.22 117.11 L158.09 117.41 L158.95 117.72 L159.82 118.04 L160.68 118.38 L161.54 118.72 L162.41 119.07 L163.27 119.43 L164.13 119.81 L165.00 120.19 L165.86 120.58 L166.73 120.98 L167.59 121.39 L168.45 121.81 L169.32 122.23 L170.18 122.67 L171.05 123.11 L171.91 123.56 L172.77 124.01 L173.64 124.48 L174.50 124.95 L175.37 125.43 L176.23 125.92 L177.09 126.41 L177.96 126.91 L178.82 127.41 L179.68 127.92 L180.55 128.44 L181.41 128.96 L182.28 129.49 L183.14 130.02 L184.00 130.55 L184.87 131.10 L185.73 131.64 L186.60 132.19 L187.46 132.75 L188.32 133.31 L189.19 133.87 L190.05 134.44 L190.92 135.01 L191.78 135.59 L192.64 136.16 L193.51 136.75 L194.37 137.33 L195.23 137.92 L196.10 138.51 L196.96 139.10 L197.83 139.70 L198.69 140.30 L199.55 140.90 L200.42 141.50 L201.28 142.11 L202.15 142.71 L203.01 143.32 L203.87 143.93 L204.74 144.55 L205.60 145.16 L206.46 145.78 L207.33 146.40 L208.19 147.02 L209.06 147.64 L209.92 148.26 L210.78 148.89 L211.65 149.51 L212.51 150.14 L213.38 150.76 L214.24 151.39 L215.10 152.02 L215.97 152.65 L216.83 153.28 L217.70 153.91 L218.56 154.55 L219.42 155.18 L220.29 155.81 L221.15 156.45 L222.01 157.08 L222.88 157.72 L223.74 158.35 L224.61 158.99 L225.47 159.62 L226.33 160.26 L227.20 160.89 L228.06 161.53 L228.93 162.17 L229.79 162.80 L230.65 163.44 L231.52 164.07 L232.38 164.71 L233.25 165.35 L234.11 165.98 L234.97 166.62 L235.84 167.25 L236.70 167.89 L237.56 168.52 L238.43 169.15 L239.29 169.79 L240.16 170.42 L241.02 171.05 L241.88 171.68 L242.75 172.31 L243.61 172.94 L244.48 173.57 L245.34 174.20 L246.20 174.82 L247.07 175.45 L247.93 176.08 L248.79 176.70 L249.66 177.32 L250.52 177.94 L251.39 178.56 L252.25 179.18 L253.11 179.80 L253.98 180.41 L254.84 181.03 L255.71 181.64 L256.57 182.25 L257.43 182.86 L258.30 183.47 L259.16 184.07 L260.03 184.68 L260.89 185.28 L261.75 185.88 L262.62 186.47 L263.48 187.07 L264.34 187.66 L265.21 188.25 L266.07 188.84 L266.94 189.42 L267.80 190.00 L268.66 190.58 L269.53 191.15 L270.39 191.72 L271.26 192.29 L272.12 192.86 L272.98 193.42 L273.85 193.97 L274.71 194.53 L275.58 195.08 L276.44 195.62 L277.30 196.16 L278.17 196.70 L279.03 197.23 L279.89 197.75 L280.76 198.27 L281.62 198.79 L282.49 199.30 L283.35 199.80 L284.21 200.30 L285.08 200.79 L285.94 201.27 L286.81 201.75 L287.67 202.22 L288.53 202.69 L289.40 203.14 L290.26 203.59 L291.13 204.03 L291.99 204.46 L292.85 204.88 L293.72 205.29 L294.58 205.70 L295.44 206.09 L296.31 206.47 L297.17 206.84 L298.04 207.20 L298.90 207.55" stroke="#ff0000" stroke-width="1.4"/>
<path d="M205.0 32.9 H277.0 M240.7 28.3 V38.7 M205.0 31.7 v2.4 M277.0 31.7 v2.4 M239.5 28.3 h2.4 M239.5 38.7 h2.4 M187.3 50.4 H256.1 M221.4 44.8 V56.5 M187.3 49.2 v2.4 M256.1 49.2 v2.4 M220.2 44.8 h2.4 M220.2 56.5 h2.4 M209.4 45.7 H294.6 M250.8 40.4 V51.7 M209.4 44.5 v2.4 M294.6 44.5 v2.4 M249.6 40.4 h2.4 M249.6 51.7 h2.4 M222.0 56.7 H286.7 M253.4 52.7 V60.8 M222.0 55.5 v2.4 M286.7 55.5 v2.4 M252.2 52.7 h2.4 M252.2 60.8 h2.4 M259.0 46.0 H317.0 M288.1 40.6 V51.0 M259.0 44.8 v2.4 M317.0 44.8 v2.4 M286.9 40.6 h2.4 M286.9 51.0 h2.4 M258.6 49.5 H321.3 M289.6 42.9 V56.0 M258.6 48.3 v2.4 M321.3 48.3 v2.4 M288.4 42.9 h2.4 M288.4 56.0 h2.4 M196.2 85.9 H258.3 M227.0 80.5 V92.5 M196.2 84.7 v2.4 M258.3 84.7 v2.4 M225.8 80.5 h2.4 M225.8 92.5 h2.4 M221.8 90.2 H347.3 M279.8 84.1 V97.3 M221.8 89.0 v2.4 M347.3 89.0 v2.4 M278.6 84.1 h2.4 M278.6 97.3 h2.4 M252.6 78.1 H311.6 M282.0 73.3 V82.9 M252.6 76.9 v2.4 M311.6 76.9 v2.4 M280.8 73.3 h2.4 M280.8 82.9 h2.4 M323.6 67.9 H391.5 M357.4 61.2 V76.1 M323.6 66.7 v2.4 M391.5 66.7 v2.4 M356.2 61.2 h2.4 M356.2 76.1 h2.4 M333.3 80.5 H398.6 M365.7 78.1 V82.9 M333.3 79.3 v2.4 M398.6 79.3 v2.4 M364.5 78.1 h2.4 M364.5 82.9 h2.4" stroke="#0a0a0a" stroke-width="1.05"/>
<g fill="#000" stroke="none"><circle cx="240.7" cy="32.9" r="2.05"/><circle cx="221.4" cy="50.4" r="2.05"/><circle cx="250.8" cy="45.7" r="2.05"/><circle cx="253.4" cy="56.7" r="2.05"/><circle cx="288.1" cy="46.0" r="2.05"/><circle cx="289.6" cy="49.5" r="2.05"/><circle cx="227.0" cy="85.9" r="2.05"/><circle cx="279.8" cy="90.2" r="2.05"/><circle cx="282.0" cy="78.1" r="2.05"/><circle cx="357.4" cy="67.9" r="2.05"/><circle cx="365.7" cy="80.5" r="2.05"/></g>
</g>
<g stroke="#3c3c3c" fill="none" stroke-linecap="square"><path d="M39.25 2.1 V232.75" stroke-width="1.9"/><path d="M39.25 2.1 H412.5" stroke-width="1.8"/><path d="M412.5 2.1 V232.75" stroke-width="1.6"/><path d="M39.25 232.75 H412.5" stroke-width="2.1"/></g>
<path d="M40.60 232.60 v-3.50 M40.60 2.10 v3.50 M63.09 232.60 v-2.40 M63.09 2.10 v2.40 M76.24 232.60 v-2.40 M76.24 2.10 v2.40 M85.57 232.60 v-2.40 M85.57 2.10 v2.40 M92.81 232.60 v-2.40 M92.81 2.10 v2.40 M98.73 232.60 v-2.40 M98.73 2.10 v2.40 M103.73 232.60 v-2.40 M103.73 2.10 v2.40 M108.06 232.60 v-2.40 M108.06 2.10 v2.40 M111.88 232.60 v-2.40 M111.88 2.10 v2.40 M115.30 232.60 v-3.50 M115.30 2.10 v3.50 M137.79 232.60 v-2.40 M137.79 2.10 v2.40 M150.94 232.60 v-2.40 M150.94 2.10 v2.40 M160.27 232.60 v-2.40 M160.27 2.10 v2.40 M167.51 232.60 v-2.40 M167.51 2.10 v2.40 M173.43 232.60 v-2.40 M173.43 2.10 v2.40 M178.43 232.60 v-2.40 M178.43 2.10 v2.40 M182.76 232.60 v-2.40 M182.76 2.10 v2.40 M186.58 232.60 v-2.40 M186.58 2.10 v2.40 M190.00 232.60 v-3.50 M190.00 2.10 v3.50 M212.49 232.60 v-2.40 M212.49 2.10 v2.40 M225.64 232.60 v-2.40 M225.64 2.10 v2.40 M234.97 232.60 v-2.40 M234.97 2.10 v2.40 M242.21 232.60 v-2.40 M242.21 2.10 v2.40 M248.13 232.60 v-2.40 M248.13 2.10 v2.40 M253.13 232.60 v-2.40 M253.13 2.10 v2.40 M257.46 232.60 v-2.40 M257.46 2.10 v2.40 M261.28 232.60 v-2.40 M261.28 2.10 v2.40 M264.70 232.60 v-3.50 M264.70 2.10 v3.50 M287.19 232.60 v-2.40 M287.19 2.10 v2.40 M300.34 232.60 v-2.40 M300.34 2.10 v2.40 M309.67 232.60 v-2.40 M309.67 2.10 v2.40 M316.91 232.60 v-2.40 M316.91 2.10 v2.40 M322.83 232.60 v-2.40 M322.83 2.10 v2.40 M327.83 232.60 v-2.40 M327.83 2.10 v2.40 M332.16 232.60 v-2.40 M332.16 2.10 v2.40 M335.98 232.60 v-2.40 M335.98 2.10 v2.40 M339.40 232.60 v-3.50 M339.40 2.10 v3.50 M361.89 232.60 v-2.40 M361.89 2.10 v2.40 M375.04 232.60 v-2.40 M375.04 2.10 v2.40 M384.37 232.60 v-2.40 M384.37 2.10 v2.40 M391.61 232.60 v-2.40 M391.61 2.10 v2.40 M397.53 232.60 v-2.40 M397.53 2.10 v2.40 M402.53 232.60 v-2.40 M402.53 2.10 v2.40 M406.86 232.60 v-2.40 M406.86 2.10 v2.40 M410.68 232.60 v-2.40 M410.68 2.10 v2.40 M39.30 228.40 h2.40 M412.40 228.40 h-2.40 M39.30 224.54 h2.40 M412.40 224.54 h-2.40 M39.30 221.19 h2.40 M412.40 221.19 h-2.40 M39.30 218.24 h2.40 M412.40 218.24 h-2.40 M39.30 215.60 h3.50 M412.40 215.60 h-3.50 M39.30 198.23 h2.40 M412.40 198.23 h-2.40 M39.30 188.07 h2.40 M412.40 188.07 h-2.40 M39.30 180.86 h2.40 M412.40 180.86 h-2.40 M39.30 175.27 h2.40 M412.40 175.27 h-2.40 M39.30 170.70 h2.40 M412.40 170.70 h-2.40 M39.30 166.84 h2.40 M412.40 166.84 h-2.40 M39.30 163.49 h2.40 M412.40 163.49 h-2.40 M39.30 160.54 h2.40 M412.40 160.54 h-2.40 M39.30 157.90 h3.50 M412.40 157.90 h-3.50 M39.30 140.53 h2.40 M412.40 140.53 h-2.40 M39.30 130.37 h2.40 M412.40 130.37 h-2.40 M39.30 123.16 h2.40 M412.40 123.16 h-2.40 M39.30 117.57 h2.40 M412.40 117.57 h-2.40 M39.30 113.00 h2.40 M412.40 113.00 h-2.40 M39.30 109.14 h2.40 M412.40 109.14 h-2.40 M39.30 105.79 h2.40 M412.40 105.79 h-2.40 M39.30 102.84 h2.40 M412.40 102.84 h-2.40 M39.30 100.20 h3.50 M412.40 100.20 h-3.50 M39.30 82.83 h2.40 M412.40 82.83 h-2.40 M39.30 72.67 h2.40 M412.40 72.67 h-2.40 M39.30 65.46 h2.40 M412.40 65.46 h-2.40 M39.30 59.87 h2.40 M412.40 59.87 h-2.40 M39.30 55.30 h2.40 M412.40 55.30 h-2.40 M39.30 51.44 h2.40 M412.40 51.44 h-2.40 M39.30 48.09 h2.40 M412.40 48.09 h-2.40 M39.30 45.14 h2.40 M412.40 45.14 h-2.40 M39.30 42.50 h3.50 M412.40 42.50 h-3.50 M39.30 25.13 h2.40 M412.40 25.13 h-2.40 M39.30 14.97 h2.40 M412.40 14.97 h-2.40 M39.30 7.76 h2.40 M412.40 7.76 h-2.40 M39.30 2.17 h2.40 M412.40 2.17 h-2.40" stroke="#aaa" stroke-width="0.5" fill="none"/>
</svg>
<div class="t" style="left:17.3px;top:37.4px">10<sup>15</sup></div>
<div class="t" style="left:17.3px;top:95.1px">10<sup>14</sup></div>
<div class="t" style="left:17.3px;top:152.8px">10<sup>13</sup></div>
<div class="t" style="left:17.3px;top:210.5px">10<sup>12</sup></div>
<div class="t" style="left:29.5px;top:235.8px">1000</div>
<div class="t" style="left:107.1px;top:235.8px">10<sup>4</sup></div>
<div class="t" style="left:181.8px;top:235.8px">10<sup>5</sup></div>
<div class="t" style="left:256.5px;top:235.8px">10<sup>6</sup></div>
<div class="t" style="left:331.2px;top:235.8px">10<sup>7</sup></div>
<div class="t" style="left:203.2px;top:251.2px;font-size:10.2px"><i>M</i><sub>BH</sub> [<i style="margin-left:1px">M</i><sub>&#8857;</sub><span style="margin-left:0.5px">]</span></div>
<div class="t" style="left:-9px;top:112.6px;font-size:10.7px;transform:rotate(-90deg);transform-origin:center">R [cm]</div>
<div class="lg" style="top:13.0px;color:#1f7362"><i>&beta;</i>=1</div>
<div class="lg" style="top:30.5px;color:#0000ff"><i>&beta;</i>=2</div>
<div class="lg" style="top:48.1px;color:#800080"><i>&beta;</i>=5</div>
<div class="lg" style="top:65.5px;color:#ff0000"><i>&beta;</i>=10</div>
</body></html>
